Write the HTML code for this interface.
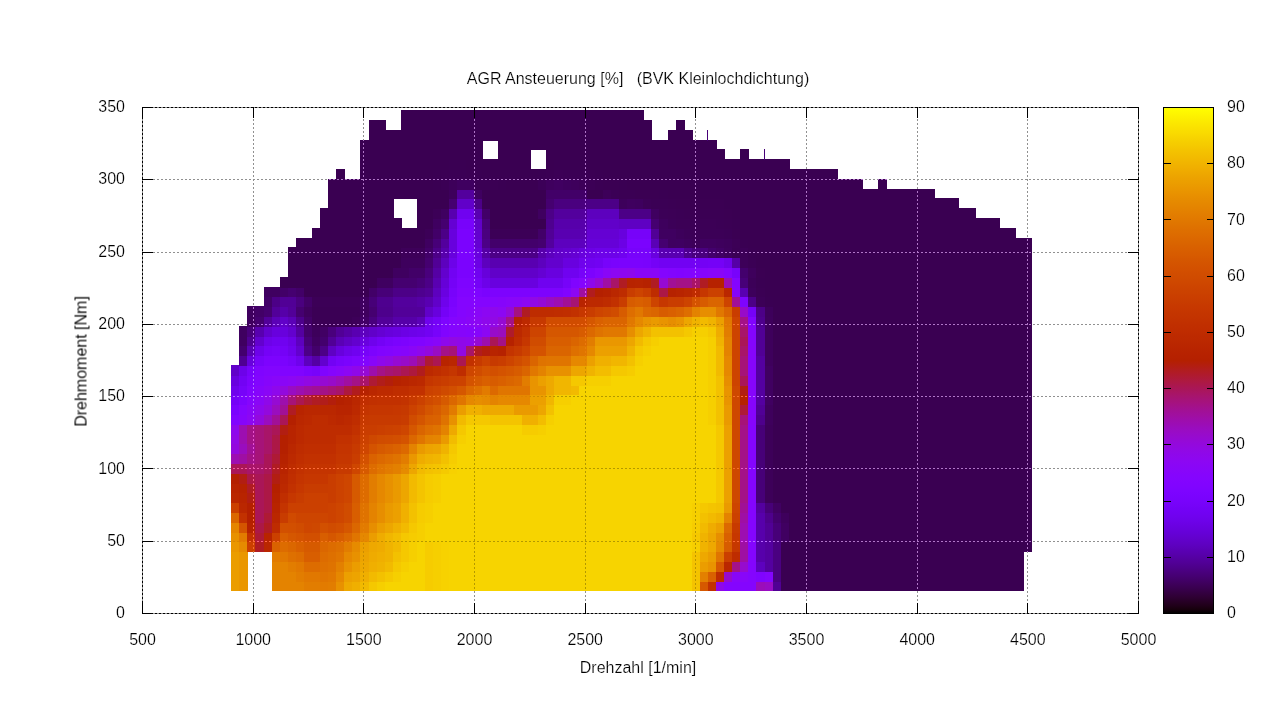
<!DOCTYPE html><html><head><meta charset="utf-8"><title>AGR Ansteuerung</title><style>html,body{margin:0;padding:0;background:#fff;}body{width:1280px;height:720px;overflow:hidden;position:relative;}svg{position:absolute;left:0;top:0;}text{font-family:"Liberation Sans",sans-serif;font-size:16px;fill:#000;stroke:#fff;stroke-width:.2px;}.tx{opacity:.999;}.hm rect{shape-rendering:crispEdges;}.g line{stroke:#909090;stroke-width:1;stroke-dasharray:2 2;shape-rendering:crispEdges;}.g{mix-blend-mode:luminosity;}.b{stroke:#000;stroke-width:1;fill:none;shape-rendering:crispEdges;}.t line{stroke:#000;stroke-width:1;shape-rendering:crispEdges;}</style></head><body><svg width="1280" height="720" viewBox="0 0 1280 720"><rect width="1280" height="720" fill="#fff"/><g class="hm"><rect x="231" y="581" width="9" height="10" fill="#eb9d00"/><rect x="239" y="581" width="9" height="10" fill="#ea9700"/><rect x="272" y="581" width="33" height="10" fill="#e48300"/><rect x="304" y="581" width="17" height="10" fill="#e27d00"/><rect x="320" y="581" width="9" height="10" fill="#e27b00"/><rect x="328" y="581" width="9" height="10" fill="#e27d00"/><rect x="336" y="581" width="9" height="10" fill="#e89100"/><rect x="344" y="581" width="9" height="10" fill="#eea900"/><rect x="352" y="581" width="9" height="10" fill="#f0af00"/><rect x="360" y="581" width="10" height="10" fill="#f2ba00"/><rect x="369" y="581" width="9" height="10" fill="#f5c800"/><rect x="377" y="581" width="9" height="10" fill="#f6cf00"/><rect x="385" y="581" width="41" height="10" fill="#f7d400"/><rect x="425" y="581" width="9" height="10" fill="#f6cc00"/><rect x="433" y="581" width="9" height="10" fill="#f6cf00"/><rect x="441" y="581" width="9" height="10" fill="#f7d200"/><rect x="449" y="581" width="244" height="10" fill="#f7d400"/><rect x="692" y="581" width="9" height="10" fill="#f4c300"/><rect x="700" y="581" width="9" height="10" fill="#d65800"/><rect x="708" y="581" width="9" height="10" fill="#c23200"/><rect x="716" y="581" width="9" height="10" fill="#8f08e9"/><rect x="724" y="581" width="33" height="10" fill="#8405fe"/><rect x="756" y="581" width="10" height="10" fill="#9b0dba"/><rect x="765" y="581" width="9" height="10" fill="#990cc4"/><rect x="773" y="581" width="9" height="10" fill="#500094"/><rect x="781" y="581" width="243" height="10" fill="#3a0052"/><rect x="231" y="571" width="9" height="11" fill="#eb9d00"/><rect x="239" y="571" width="9" height="11" fill="#ea9700"/><rect x="272" y="571" width="25" height="11" fill="#e48300"/><rect x="296" y="571" width="9" height="11" fill="#e27d00"/><rect x="304" y="571" width="17" height="11" fill="#e17800"/><rect x="320" y="571" width="9" height="11" fill="#e07500"/><rect x="328" y="571" width="9" height="11" fill="#e17800"/><rect x="336" y="571" width="9" height="11" fill="#e68800"/><rect x="344" y="571" width="9" height="11" fill="#eca000"/><rect x="352" y="571" width="9" height="11" fill="#eda400"/><rect x="360" y="571" width="10" height="11" fill="#f0af00"/><rect x="369" y="571" width="9" height="11" fill="#f2ba00"/><rect x="377" y="571" width="9" height="11" fill="#f3c100"/><rect x="385" y="571" width="9" height="11" fill="#f5c800"/><rect x="393" y="571" width="9" height="11" fill="#f6cf00"/><rect x="401" y="571" width="25" height="11" fill="#f7d400"/><rect x="425" y="571" width="9" height="11" fill="#f6cc00"/><rect x="433" y="571" width="9" height="11" fill="#f6cf00"/><rect x="441" y="571" width="9" height="11" fill="#f7d200"/><rect x="449" y="571" width="244" height="11" fill="#f7d400"/><rect x="692" y="571" width="9" height="11" fill="#f4c300"/><rect x="700" y="571" width="9" height="11" fill="#e38000"/><rect x="708" y="571" width="9" height="11" fill="#d96100"/><rect x="716" y="571" width="9" height="11" fill="#be2c00"/><rect x="724" y="571" width="9" height="11" fill="#970bce"/><rect x="732" y="571" width="17" height="11" fill="#8806f9"/><rect x="748" y="571" width="9" height="11" fill="#8405fe"/><rect x="756" y="571" width="10" height="11" fill="#8004ff"/><rect x="765" y="571" width="9" height="11" fill="#8405fe"/><rect x="773" y="571" width="9" height="11" fill="#4a0081"/><rect x="781" y="571" width="243" height="11" fill="#3a0052"/><rect x="231" y="561" width="9" height="11" fill="#eb9d00"/><rect x="239" y="561" width="9" height="11" fill="#ea9700"/><rect x="272" y="561" width="17" height="11" fill="#e48300"/><rect x="288" y="561" width="9" height="11" fill="#e27d00"/><rect x="296" y="561" width="9" height="11" fill="#e17800"/><rect x="304" y="561" width="17" height="11" fill="#dd6c00"/><rect x="320" y="561" width="9" height="11" fill="#de7000"/><rect x="328" y="561" width="9" height="11" fill="#df7300"/><rect x="336" y="561" width="9" height="11" fill="#e38000"/><rect x="344" y="561" width="9" height="11" fill="#e89100"/><rect x="352" y="561" width="9" height="11" fill="#eb9d00"/><rect x="360" y="561" width="10" height="11" fill="#eea800"/><rect x="369" y="561" width="9" height="11" fill="#f0af00"/><rect x="377" y="561" width="9" height="11" fill="#f0b300"/><rect x="385" y="561" width="9" height="11" fill="#f2ba00"/><rect x="393" y="561" width="9" height="11" fill="#f5c800"/><rect x="401" y="561" width="9" height="11" fill="#f6cf00"/><rect x="409" y="561" width="17" height="11" fill="#f7d400"/><rect x="425" y="561" width="9" height="11" fill="#f6cc00"/><rect x="433" y="561" width="9" height="11" fill="#f6cf00"/><rect x="441" y="561" width="9" height="11" fill="#f7d200"/><rect x="449" y="561" width="244" height="11" fill="#f7d400"/><rect x="692" y="561" width="9" height="11" fill="#f4c300"/><rect x="700" y="561" width="9" height="11" fill="#eb9d00"/><rect x="708" y="561" width="9" height="11" fill="#e99300"/><rect x="716" y="561" width="9" height="11" fill="#d65800"/><rect x="724" y="561" width="9" height="11" fill="#ba2700"/><rect x="732" y="561" width="9" height="11" fill="#a31289"/><rect x="740" y="561" width="9" height="11" fill="#970bce"/><rect x="748" y="561" width="9" height="11" fill="#8405fe"/><rect x="756" y="561" width="10" height="11" fill="#5d01be"/><rect x="765" y="561" width="9" height="11" fill="#5400a0"/><rect x="773" y="561" width="9" height="11" fill="#4a0081"/><rect x="781" y="561" width="243" height="11" fill="#3a0052"/><rect x="231" y="551" width="9" height="11" fill="#eb9d00"/><rect x="239" y="551" width="9" height="11" fill="#ea9700"/><rect x="272" y="551" width="9" height="11" fill="#e27b00"/><rect x="280" y="551" width="9" height="11" fill="#e17800"/><rect x="288" y="551" width="9" height="11" fill="#de7000"/><rect x="296" y="551" width="9" height="11" fill="#dd6c00"/><rect x="304" y="551" width="17" height="11" fill="#d85e00"/><rect x="320" y="551" width="9" height="11" fill="#dd6c00"/><rect x="328" y="551" width="9" height="11" fill="#de7000"/><rect x="336" y="551" width="9" height="11" fill="#e07500"/><rect x="344" y="551" width="9" height="11" fill="#e68800"/><rect x="352" y="551" width="9" height="11" fill="#e89100"/><rect x="360" y="551" width="10" height="11" fill="#eda400"/><rect x="369" y="551" width="9" height="11" fill="#efab00"/><rect x="377" y="551" width="9" height="11" fill="#f0af00"/><rect x="385" y="551" width="9" height="11" fill="#f0b300"/><rect x="393" y="551" width="9" height="11" fill="#f3c100"/><rect x="401" y="551" width="9" height="11" fill="#f5c800"/><rect x="409" y="551" width="9" height="11" fill="#f6cf00"/><rect x="417" y="551" width="9" height="11" fill="#f7d400"/><rect x="425" y="551" width="9" height="11" fill="#f6cc00"/><rect x="433" y="551" width="9" height="11" fill="#f6cf00"/><rect x="441" y="551" width="9" height="11" fill="#f7d200"/><rect x="449" y="551" width="244" height="11" fill="#f7d400"/><rect x="692" y="551" width="9" height="11" fill="#f4c300"/><rect x="700" y="551" width="9" height="11" fill="#eea800"/><rect x="708" y="551" width="9" height="11" fill="#eb9d00"/><rect x="716" y="551" width="9" height="11" fill="#e07500"/><rect x="724" y="551" width="9" height="11" fill="#ca3f00"/><rect x="732" y="551" width="9" height="11" fill="#be2c00"/><rect x="740" y="551" width="9" height="11" fill="#9f0fa3"/><rect x="748" y="551" width="9" height="11" fill="#8405fe"/><rect x="756" y="551" width="10" height="11" fill="#5700ab"/><rect x="765" y="551" width="9" height="11" fill="#5400a0"/><rect x="773" y="551" width="9" height="11" fill="#4a0081"/><rect x="781" y="551" width="243" height="11" fill="#3a0052"/><rect x="231" y="541" width="9" height="11" fill="#ea9700"/><rect x="239" y="541" width="9" height="11" fill="#e68b00"/><rect x="247" y="541" width="9" height="11" fill="#cb4000"/><rect x="255" y="541" width="10" height="11" fill="#b01c23"/><rect x="264" y="541" width="9" height="11" fill="#ba2700"/><rect x="272" y="541" width="9" height="11" fill="#da6200"/><rect x="280" y="541" width="9" height="11" fill="#dd6c00"/><rect x="288" y="541" width="9" height="11" fill="#db6700"/><rect x="296" y="541" width="9" height="11" fill="#d96000"/><rect x="304" y="541" width="17" height="11" fill="#d65a00"/><rect x="320" y="541" width="9" height="11" fill="#db6700"/><rect x="328" y="541" width="9" height="11" fill="#dd6c00"/><rect x="336" y="541" width="9" height="11" fill="#de7000"/><rect x="344" y="541" width="9" height="11" fill="#e27d00"/><rect x="352" y="541" width="9" height="11" fill="#e68b00"/><rect x="360" y="541" width="10" height="11" fill="#eca000"/><rect x="369" y="541" width="9" height="11" fill="#eea800"/><rect x="377" y="541" width="9" height="11" fill="#efab00"/><rect x="385" y="541" width="9" height="11" fill="#f0b300"/><rect x="393" y="541" width="9" height="11" fill="#f2ba00"/><rect x="401" y="541" width="9" height="11" fill="#f5c800"/><rect x="409" y="541" width="9" height="11" fill="#f6cf00"/><rect x="417" y="541" width="9" height="11" fill="#f7d400"/><rect x="425" y="541" width="9" height="11" fill="#f6cc00"/><rect x="433" y="541" width="9" height="11" fill="#f6cf00"/><rect x="441" y="541" width="9" height="11" fill="#f7d200"/><rect x="449" y="541" width="244" height="11" fill="#f7d400"/><rect x="692" y="541" width="9" height="11" fill="#f6ce00"/><rect x="700" y="541" width="9" height="11" fill="#f0b300"/><rect x="708" y="541" width="9" height="11" fill="#eea800"/><rect x="716" y="541" width="9" height="11" fill="#e68900"/><rect x="724" y="541" width="9" height="11" fill="#d75c00"/><rect x="732" y="541" width="9" height="11" fill="#c63800"/><rect x="740" y="541" width="9" height="11" fill="#9f0fa3"/><rect x="748" y="541" width="9" height="11" fill="#8405fe"/><rect x="756" y="541" width="10" height="11" fill="#5700ab"/><rect x="765" y="541" width="9" height="11" fill="#5400a0"/><rect x="773" y="541" width="9" height="11" fill="#4a0081"/><rect x="781" y="541" width="251" height="11" fill="#3a0052"/><rect x="231" y="532" width="9" height="10" fill="#e89100"/><rect x="239" y="532" width="9" height="10" fill="#e27b00"/><rect x="247" y="532" width="9" height="10" fill="#c23100"/><rect x="255" y="532" width="10" height="10" fill="#ae1a35"/><rect x="264" y="532" width="9" height="10" fill="#b82400"/><rect x="272" y="532" width="9" height="10" fill="#cb4000"/><rect x="280" y="532" width="9" height="10" fill="#d85e00"/><rect x="288" y="532" width="9" height="10" fill="#d55700"/><rect x="296" y="532" width="9" height="10" fill="#d45300"/><rect x="304" y="532" width="17" height="10" fill="#d24f00"/><rect x="320" y="532" width="9" height="10" fill="#d85e00"/><rect x="328" y="532" width="9" height="10" fill="#d55700"/><rect x="336" y="532" width="9" height="10" fill="#d85e00"/><rect x="344" y="532" width="9" height="10" fill="#db6700"/><rect x="352" y="532" width="9" height="10" fill="#e07500"/><rect x="360" y="532" width="10" height="10" fill="#e68800"/><rect x="369" y="532" width="9" height="10" fill="#eb9d00"/><rect x="377" y="532" width="9" height="10" fill="#efac00"/><rect x="385" y="532" width="9" height="10" fill="#f1b600"/><rect x="393" y="532" width="9" height="10" fill="#f3bd00"/><rect x="401" y="532" width="9" height="10" fill="#f5c800"/><rect x="409" y="532" width="9" height="10" fill="#f6cc00"/><rect x="417" y="532" width="9" height="10" fill="#f6cf00"/><rect x="425" y="532" width="268" height="10" fill="#f7d400"/><rect x="692" y="532" width="9" height="10" fill="#f5c800"/><rect x="700" y="532" width="9" height="10" fill="#f0b300"/><rect x="708" y="532" width="9" height="10" fill="#eda600"/><rect x="716" y="532" width="9" height="10" fill="#e78e00"/><rect x="724" y="532" width="9" height="10" fill="#d96000"/><rect x="732" y="532" width="9" height="10" fill="#c63700"/><rect x="740" y="532" width="9" height="10" fill="#9d0eb1"/><rect x="748" y="532" width="9" height="10" fill="#8405fe"/><rect x="756" y="532" width="10" height="10" fill="#5700ab"/><rect x="765" y="532" width="9" height="10" fill="#510096"/><rect x="773" y="532" width="9" height="10" fill="#470078"/><rect x="781" y="532" width="9" height="10" fill="#400061"/><rect x="789" y="532" width="243" height="10" fill="#3a0052"/><rect x="231" y="522" width="9" height="11" fill="#e58500"/><rect x="239" y="522" width="9" height="11" fill="#d45500"/><rect x="247" y="522" width="9" height="11" fill="#b62200"/><rect x="255" y="522" width="10" height="11" fill="#ac1846"/><rect x="264" y="522" width="9" height="11" fill="#b01c23"/><rect x="272" y="522" width="9" height="11" fill="#be2c00"/><rect x="280" y="522" width="9" height="11" fill="#d25000"/><rect x="288" y="522" width="9" height="11" fill="#d24f00"/><rect x="296" y="522" width="9" height="11" fill="#d04c00"/><rect x="304" y="522" width="9" height="11" fill="#ce4600"/><rect x="312" y="522" width="9" height="11" fill="#ce4800"/><rect x="320" y="522" width="9" height="11" fill="#d25000"/><rect x="328" y="522" width="9" height="11" fill="#d04c00"/><rect x="336" y="522" width="9" height="11" fill="#d24f00"/><rect x="344" y="522" width="9" height="11" fill="#d55700"/><rect x="352" y="522" width="9" height="11" fill="#db6700"/><rect x="360" y="522" width="10" height="11" fill="#e27b00"/><rect x="369" y="522" width="9" height="11" fill="#e78e00"/><rect x="377" y="522" width="9" height="11" fill="#eb9d00"/><rect x="385" y="522" width="9" height="11" fill="#eda600"/><rect x="393" y="522" width="9" height="11" fill="#f0b000"/><rect x="401" y="522" width="9" height="11" fill="#f2ba00"/><rect x="409" y="522" width="9" height="11" fill="#f5c800"/><rect x="417" y="522" width="9" height="11" fill="#f6cf00"/><rect x="425" y="522" width="268" height="11" fill="#f7d400"/><rect x="692" y="522" width="9" height="11" fill="#f6cc00"/><rect x="700" y="522" width="9" height="11" fill="#f2ba00"/><rect x="708" y="522" width="9" height="11" fill="#efac00"/><rect x="716" y="522" width="9" height="11" fill="#eca000"/><rect x="724" y="522" width="9" height="11" fill="#dc6900"/><rect x="732" y="522" width="9" height="11" fill="#c73a00"/><rect x="740" y="522" width="9" height="11" fill="#9d0eb1"/><rect x="748" y="522" width="9" height="11" fill="#8405fe"/><rect x="756" y="522" width="10" height="11" fill="#5700ab"/><rect x="765" y="522" width="9" height="11" fill="#510096"/><rect x="773" y="522" width="9" height="11" fill="#470078"/><rect x="781" y="522" width="9" height="11" fill="#400061"/><rect x="789" y="522" width="243" height="11" fill="#3a0052"/><rect x="231" y="512" width="9" height="11" fill="#db6700"/><rect x="239" y="512" width="9" height="11" fill="#c23100"/><rect x="247" y="512" width="9" height="11" fill="#b42000"/><rect x="255" y="512" width="10" height="11" fill="#aa1657"/><rect x="264" y="512" width="9" height="11" fill="#ae1a35"/><rect x="272" y="512" width="9" height="11" fill="#ba2700"/><rect x="280" y="512" width="9" height="11" fill="#c83c00"/><rect x="288" y="512" width="9" height="11" fill="#d04a00"/><rect x="296" y="512" width="33" height="11" fill="#cd4500"/><rect x="328" y="512" width="9" height="11" fill="#cc4200"/><rect x="336" y="512" width="9" height="11" fill="#ce4600"/><rect x="344" y="512" width="9" height="11" fill="#d04c00"/><rect x="352" y="512" width="9" height="11" fill="#d85e00"/><rect x="360" y="512" width="10" height="11" fill="#df7300"/><rect x="369" y="512" width="9" height="11" fill="#e48300"/><rect x="377" y="512" width="9" height="11" fill="#e78e00"/><rect x="385" y="512" width="9" height="11" fill="#ea9a00"/><rect x="393" y="512" width="9" height="11" fill="#eca000"/><rect x="401" y="512" width="9" height="11" fill="#f0b000"/><rect x="409" y="512" width="9" height="11" fill="#f3c100"/><rect x="417" y="512" width="9" height="11" fill="#f6cc00"/><rect x="425" y="512" width="9" height="11" fill="#f6cf00"/><rect x="433" y="512" width="260" height="11" fill="#f7d400"/><rect x="692" y="512" width="9" height="11" fill="#f6cf00"/><rect x="700" y="512" width="9" height="11" fill="#f3c100"/><rect x="708" y="512" width="9" height="11" fill="#f2ba00"/><rect x="716" y="512" width="9" height="11" fill="#f0b300"/><rect x="724" y="512" width="9" height="11" fill="#e48300"/><rect x="732" y="512" width="9" height="11" fill="#cb4100"/><rect x="740" y="512" width="9" height="11" fill="#9f0fa4"/><rect x="748" y="512" width="9" height="11" fill="#8405fe"/><rect x="756" y="512" width="10" height="11" fill="#5700ab"/><rect x="765" y="512" width="9" height="11" fill="#4e008c"/><rect x="773" y="512" width="9" height="11" fill="#43006d"/><rect x="781" y="512" width="9" height="11" fill="#3e005c"/><rect x="789" y="512" width="243" height="11" fill="#3a0052"/><rect x="231" y="502" width="9" height="11" fill="#cb4000"/><rect x="239" y="502" width="9" height="11" fill="#ba2700"/><rect x="247" y="502" width="9" height="11" fill="#b42000"/><rect x="255" y="502" width="10" height="11" fill="#aa1657"/><rect x="264" y="502" width="9" height="11" fill="#ac1846"/><rect x="272" y="502" width="9" height="11" fill="#b82400"/><rect x="280" y="502" width="9" height="11" fill="#c43400"/><rect x="288" y="502" width="41" height="11" fill="#cb4000"/><rect x="328" y="502" width="9" height="11" fill="#cc4200"/><rect x="336" y="502" width="9" height="11" fill="#ce4600"/><rect x="344" y="502" width="9" height="11" fill="#d04c00"/><rect x="352" y="502" width="9" height="11" fill="#d85e00"/><rect x="360" y="502" width="10" height="11" fill="#df7300"/><rect x="369" y="502" width="9" height="11" fill="#e48300"/><rect x="377" y="502" width="9" height="11" fill="#e78e00"/><rect x="385" y="502" width="9" height="11" fill="#ea9a00"/><rect x="393" y="502" width="9" height="11" fill="#eca000"/><rect x="401" y="502" width="9" height="11" fill="#f0b000"/><rect x="409" y="502" width="9" height="11" fill="#f3c100"/><rect x="417" y="502" width="9" height="11" fill="#f6cc00"/><rect x="425" y="502" width="9" height="11" fill="#f6cf00"/><rect x="433" y="502" width="260" height="11" fill="#f7d400"/><rect x="692" y="502" width="9" height="11" fill="#f6cf00"/><rect x="700" y="502" width="9" height="11" fill="#f5c800"/><rect x="708" y="502" width="9" height="11" fill="#f4c400"/><rect x="716" y="502" width="9" height="11" fill="#f3c100"/><rect x="724" y="502" width="9" height="11" fill="#ea9a00"/><rect x="732" y="502" width="9" height="11" fill="#cd4400"/><rect x="740" y="502" width="9" height="11" fill="#a11096"/><rect x="748" y="502" width="9" height="11" fill="#8405fe"/><rect x="756" y="502" width="10" height="11" fill="#5400a0"/><rect x="765" y="502" width="9" height="11" fill="#470078"/><rect x="773" y="502" width="9" height="11" fill="#400061"/><rect x="781" y="502" width="251" height="11" fill="#3a0052"/><rect x="231" y="492" width="9" height="11" fill="#ba2700"/><rect x="239" y="492" width="9" height="11" fill="#b82400"/><rect x="247" y="492" width="9" height="11" fill="#b21e12"/><rect x="255" y="492" width="10" height="11" fill="#aa1657"/><rect x="264" y="492" width="9" height="11" fill="#ac1846"/><rect x="272" y="492" width="9" height="11" fill="#b62200"/><rect x="280" y="492" width="9" height="11" fill="#c02e00"/><rect x="288" y="492" width="9" height="11" fill="#c63700"/><rect x="296" y="492" width="9" height="11" fill="#c83c00"/><rect x="304" y="492" width="25" height="11" fill="#cb4000"/><rect x="328" y="492" width="9" height="11" fill="#c93d00"/><rect x="336" y="492" width="9" height="11" fill="#cc4200"/><rect x="344" y="492" width="9" height="11" fill="#ce4600"/><rect x="352" y="492" width="9" height="11" fill="#d65a00"/><rect x="360" y="492" width="10" height="11" fill="#dd6c00"/><rect x="369" y="492" width="9" height="11" fill="#e27d00"/><rect x="377" y="492" width="9" height="11" fill="#e68800"/><rect x="385" y="492" width="9" height="11" fill="#e89100"/><rect x="393" y="492" width="9" height="11" fill="#ea9a00"/><rect x="401" y="492" width="9" height="11" fill="#eda600"/><rect x="409" y="492" width="9" height="11" fill="#f2ba00"/><rect x="417" y="492" width="9" height="11" fill="#f4c400"/><rect x="425" y="492" width="9" height="11" fill="#f6cc00"/><rect x="433" y="492" width="9" height="11" fill="#f6cf00"/><rect x="441" y="492" width="276" height="11" fill="#f7d400"/><rect x="716" y="492" width="9" height="11" fill="#f5c800"/><rect x="724" y="492" width="9" height="11" fill="#eca000"/><rect x="732" y="492" width="9" height="11" fill="#ce4800"/><rect x="740" y="492" width="9" height="11" fill="#a41287"/><rect x="748" y="492" width="9" height="11" fill="#8405fe"/><rect x="756" y="492" width="10" height="11" fill="#470078"/><rect x="765" y="492" width="9" height="11" fill="#3d0059"/><rect x="773" y="492" width="259" height="11" fill="#3a0052"/><rect x="231" y="483" width="9" height="10" fill="#b82400"/><rect x="239" y="483" width="9" height="10" fill="#b62200"/><rect x="247" y="483" width="9" height="10" fill="#b01c23"/><rect x="255" y="483" width="10" height="10" fill="#aa1657"/><rect x="264" y="483" width="9" height="10" fill="#ac1846"/><rect x="272" y="483" width="9" height="10" fill="#b42000"/><rect x="280" y="483" width="9" height="10" fill="#bc2900"/><rect x="288" y="483" width="9" height="10" fill="#c23100"/><rect x="296" y="483" width="9" height="10" fill="#c63700"/><rect x="304" y="483" width="25" height="10" fill="#c83c00"/><rect x="328" y="483" width="9" height="10" fill="#c93d00"/><rect x="336" y="483" width="9" height="10" fill="#cc4200"/><rect x="344" y="483" width="9" height="10" fill="#ce4600"/><rect x="352" y="483" width="9" height="10" fill="#d65a00"/><rect x="360" y="483" width="10" height="10" fill="#dd6c00"/><rect x="369" y="483" width="9" height="10" fill="#e27d00"/><rect x="377" y="483" width="9" height="10" fill="#e68800"/><rect x="385" y="483" width="9" height="10" fill="#e89100"/><rect x="393" y="483" width="9" height="10" fill="#ea9a00"/><rect x="401" y="483" width="9" height="10" fill="#eda600"/><rect x="409" y="483" width="9" height="10" fill="#f2ba00"/><rect x="417" y="483" width="9" height="10" fill="#f4c400"/><rect x="425" y="483" width="9" height="10" fill="#f6cc00"/><rect x="433" y="483" width="9" height="10" fill="#f6cf00"/><rect x="441" y="483" width="276" height="10" fill="#f7d400"/><rect x="716" y="483" width="9" height="10" fill="#f5c800"/><rect x="724" y="483" width="9" height="10" fill="#eca000"/><rect x="732" y="483" width="9" height="10" fill="#ce4800"/><rect x="740" y="483" width="9" height="10" fill="#a41287"/><rect x="748" y="483" width="9" height="10" fill="#8405fe"/><rect x="756" y="483" width="10" height="10" fill="#470078"/><rect x="765" y="483" width="9" height="10" fill="#3d0059"/><rect x="773" y="483" width="259" height="10" fill="#3a0052"/><rect x="231" y="473" width="9" height="11" fill="#b42000"/><rect x="239" y="473" width="9" height="11" fill="#b21e12"/><rect x="247" y="473" width="9" height="11" fill="#ac1846"/><rect x="255" y="473" width="10" height="11" fill="#aa1657"/><rect x="264" y="473" width="9" height="11" fill="#ac1846"/><rect x="272" y="473" width="9" height="11" fill="#b21e12"/><rect x="280" y="473" width="9" height="11" fill="#ba2700"/><rect x="288" y="473" width="9" height="11" fill="#c02e00"/><rect x="296" y="473" width="9" height="11" fill="#c43400"/><rect x="304" y="473" width="25" height="11" fill="#c63700"/><rect x="328" y="473" width="9" height="11" fill="#c93d00"/><rect x="336" y="473" width="9" height="11" fill="#cc4200"/><rect x="344" y="473" width="9" height="11" fill="#ce4600"/><rect x="352" y="473" width="9" height="11" fill="#d65a00"/><rect x="360" y="473" width="10" height="11" fill="#dd6c00"/><rect x="369" y="473" width="9" height="11" fill="#e27d00"/><rect x="377" y="473" width="9" height="11" fill="#e68800"/><rect x="385" y="473" width="9" height="11" fill="#e89100"/><rect x="393" y="473" width="9" height="11" fill="#ea9a00"/><rect x="401" y="473" width="9" height="11" fill="#eda600"/><rect x="409" y="473" width="9" height="11" fill="#f2ba00"/><rect x="417" y="473" width="9" height="11" fill="#f4c400"/><rect x="425" y="473" width="9" height="11" fill="#f6cc00"/><rect x="433" y="473" width="9" height="11" fill="#f6cf00"/><rect x="441" y="473" width="276" height="11" fill="#f7d400"/><rect x="716" y="473" width="9" height="11" fill="#f5c800"/><rect x="724" y="473" width="9" height="11" fill="#eca000"/><rect x="732" y="473" width="9" height="11" fill="#ce4800"/><rect x="740" y="473" width="9" height="11" fill="#a41287"/><rect x="748" y="473" width="9" height="11" fill="#8405fe"/><rect x="756" y="473" width="10" height="11" fill="#470078"/><rect x="765" y="473" width="9" height="11" fill="#3d0059"/><rect x="773" y="473" width="259" height="11" fill="#3a0052"/><rect x="231" y="463" width="17" height="11" fill="#aa1657"/><rect x="247" y="463" width="18" height="11" fill="#a81568"/><rect x="264" y="463" width="9" height="11" fill="#aa1657"/><rect x="272" y="463" width="9" height="11" fill="#b01c23"/><rect x="280" y="463" width="9" height="11" fill="#b82400"/><rect x="288" y="463" width="9" height="11" fill="#be2c00"/><rect x="296" y="463" width="9" height="11" fill="#c23100"/><rect x="304" y="463" width="33" height="11" fill="#c43400"/><rect x="336" y="463" width="17" height="11" fill="#c73a00"/><rect x="352" y="463" width="9" height="11" fill="#ce4600"/><rect x="360" y="463" width="10" height="11" fill="#d65a00"/><rect x="369" y="463" width="9" height="11" fill="#dd6c00"/><rect x="377" y="463" width="9" height="11" fill="#e07500"/><rect x="385" y="463" width="9" height="11" fill="#e27b00"/><rect x="393" y="463" width="9" height="11" fill="#e38000"/><rect x="401" y="463" width="9" height="11" fill="#e68b00"/><rect x="409" y="463" width="9" height="11" fill="#eda600"/><rect x="417" y="463" width="9" height="11" fill="#f2ba00"/><rect x="425" y="463" width="9" height="11" fill="#f3c100"/><rect x="433" y="463" width="9" height="11" fill="#f4c400"/><rect x="441" y="463" width="9" height="11" fill="#f5ca00"/><rect x="449" y="463" width="9" height="11" fill="#f7d100"/><rect x="457" y="463" width="260" height="11" fill="#f7d400"/><rect x="716" y="463" width="9" height="11" fill="#f5c800"/><rect x="724" y="463" width="9" height="11" fill="#eca000"/><rect x="732" y="463" width="9" height="11" fill="#ce4800"/><rect x="740" y="463" width="9" height="11" fill="#a41287"/><rect x="748" y="463" width="9" height="11" fill="#8405fe"/><rect x="756" y="463" width="10" height="11" fill="#470078"/><rect x="765" y="463" width="9" height="11" fill="#3d0059"/><rect x="773" y="463" width="259" height="11" fill="#3a0052"/><rect x="231" y="453" width="9" height="11" fill="#9d0eb1"/><rect x="239" y="453" width="9" height="11" fill="#9f0fa4"/><rect x="247" y="453" width="9" height="11" fill="#a41287"/><rect x="255" y="453" width="10" height="11" fill="#a61378"/><rect x="264" y="453" width="9" height="11" fill="#aa1657"/><rect x="272" y="453" width="9" height="11" fill="#ae1a35"/><rect x="280" y="453" width="9" height="11" fill="#b62200"/><rect x="288" y="453" width="9" height="11" fill="#bc2900"/><rect x="296" y="453" width="9" height="11" fill="#c02e00"/><rect x="304" y="453" width="33" height="11" fill="#c23100"/><rect x="336" y="453" width="17" height="11" fill="#c53600"/><rect x="352" y="453" width="9" height="11" fill="#c93d00"/><rect x="360" y="453" width="10" height="11" fill="#d35100"/><rect x="369" y="453" width="9" height="11" fill="#da6200"/><rect x="377" y="453" width="9" height="11" fill="#dc6900"/><rect x="385" y="453" width="9" height="11" fill="#de6e00"/><rect x="393" y="453" width="9" height="11" fill="#df7300"/><rect x="401" y="453" width="9" height="11" fill="#e27d00"/><rect x="409" y="453" width="9" height="11" fill="#ea9700"/><rect x="417" y="453" width="9" height="11" fill="#efac00"/><rect x="425" y="453" width="9" height="11" fill="#f0b300"/><rect x="433" y="453" width="9" height="11" fill="#f1b600"/><rect x="441" y="453" width="9" height="11" fill="#f3c100"/><rect x="449" y="453" width="9" height="11" fill="#f6cd00"/><rect x="457" y="453" width="260" height="11" fill="#f7d400"/><rect x="716" y="453" width="9" height="11" fill="#f5c800"/><rect x="724" y="453" width="9" height="11" fill="#eca000"/><rect x="732" y="453" width="9" height="11" fill="#ce4800"/><rect x="740" y="453" width="9" height="11" fill="#a41287"/><rect x="748" y="453" width="9" height="11" fill="#8405fe"/><rect x="756" y="453" width="10" height="11" fill="#470078"/><rect x="765" y="453" width="9" height="11" fill="#3d0059"/><rect x="773" y="453" width="259" height="11" fill="#3a0052"/><rect x="231" y="443" width="9" height="11" fill="#9309dd"/><rect x="239" y="443" width="9" height="11" fill="#9a0dbe"/><rect x="247" y="443" width="9" height="11" fill="#a11096"/><rect x="255" y="443" width="10" height="11" fill="#a61378"/><rect x="264" y="443" width="9" height="11" fill="#a81568"/><rect x="272" y="443" width="9" height="11" fill="#ac1846"/><rect x="280" y="443" width="9" height="11" fill="#b42000"/><rect x="288" y="443" width="9" height="11" fill="#ba2700"/><rect x="296" y="443" width="9" height="11" fill="#be2c00"/><rect x="304" y="443" width="33" height="11" fill="#c02e00"/><rect x="336" y="443" width="17" height="11" fill="#c43400"/><rect x="352" y="443" width="9" height="11" fill="#c73a00"/><rect x="360" y="443" width="10" height="11" fill="#ce4600"/><rect x="369" y="443" width="9" height="11" fill="#d45300"/><rect x="377" y="443" width="9" height="11" fill="#d65a00"/><rect x="385" y="443" width="9" height="11" fill="#d85e00"/><rect x="393" y="443" width="9" height="11" fill="#da6200"/><rect x="401" y="443" width="9" height="11" fill="#dc6900"/><rect x="409" y="443" width="9" height="11" fill="#e48300"/><rect x="417" y="443" width="9" height="11" fill="#ea9a00"/><rect x="425" y="443" width="9" height="11" fill="#eda300"/><rect x="433" y="443" width="9" height="11" fill="#eda600"/><rect x="441" y="443" width="9" height="11" fill="#f0b300"/><rect x="449" y="443" width="9" height="11" fill="#f5c800"/><rect x="457" y="443" width="260" height="11" fill="#f7d400"/><rect x="716" y="443" width="9" height="11" fill="#f5c800"/><rect x="724" y="443" width="9" height="11" fill="#eca000"/><rect x="732" y="443" width="9" height="11" fill="#ce4800"/><rect x="740" y="443" width="9" height="11" fill="#a41287"/><rect x="748" y="443" width="9" height="11" fill="#8405fe"/><rect x="756" y="443" width="10" height="11" fill="#470078"/><rect x="765" y="443" width="9" height="11" fill="#3d0059"/><rect x="773" y="443" width="259" height="11" fill="#3a0052"/><rect x="231" y="434" width="9" height="10" fill="#9109e5"/><rect x="239" y="434" width="9" height="10" fill="#9d0eb1"/><rect x="247" y="434" width="9" height="10" fill="#a41287"/><rect x="255" y="434" width="10" height="10" fill="#a61378"/><rect x="264" y="434" width="9" height="10" fill="#a81568"/><rect x="272" y="434" width="9" height="10" fill="#ac1846"/><rect x="280" y="434" width="9" height="10" fill="#b42000"/><rect x="288" y="434" width="9" height="10" fill="#b82400"/><rect x="296" y="434" width="9" height="10" fill="#bc2900"/><rect x="304" y="434" width="33" height="10" fill="#be2c00"/><rect x="336" y="434" width="17" height="10" fill="#c23100"/><rect x="352" y="434" width="9" height="10" fill="#c53600"/><rect x="360" y="434" width="10" height="10" fill="#cb4100"/><rect x="369" y="434" width="9" height="10" fill="#ce4800"/><rect x="377" y="434" width="9" height="10" fill="#d04c00"/><rect x="385" y="434" width="9" height="10" fill="#d14d00"/><rect x="393" y="434" width="9" height="10" fill="#d24f00"/><rect x="401" y="434" width="9" height="10" fill="#d45300"/><rect x="409" y="434" width="9" height="10" fill="#db6700"/><rect x="417" y="434" width="9" height="10" fill="#e07500"/><rect x="425" y="434" width="9" height="10" fill="#e48300"/><rect x="433" y="434" width="9" height="10" fill="#e58500"/><rect x="441" y="434" width="9" height="10" fill="#ea9a00"/><rect x="449" y="434" width="9" height="10" fill="#f2bc00"/><rect x="457" y="434" width="10" height="10" fill="#f6cf00"/><rect x="466" y="434" width="251" height="10" fill="#f7d400"/><rect x="716" y="434" width="9" height="10" fill="#f5c800"/><rect x="724" y="434" width="9" height="10" fill="#eca000"/><rect x="732" y="434" width="9" height="10" fill="#ce4800"/><rect x="740" y="434" width="9" height="10" fill="#a41287"/><rect x="748" y="434" width="9" height="10" fill="#8405fe"/><rect x="756" y="434" width="10" height="10" fill="#470078"/><rect x="765" y="434" width="9" height="10" fill="#3d0059"/><rect x="773" y="434" width="259" height="10" fill="#3a0052"/><rect x="231" y="424" width="9" height="11" fill="#8e08ec"/><rect x="239" y="424" width="9" height="11" fill="#9d0eb1"/><rect x="247" y="424" width="9" height="11" fill="#a41287"/><rect x="255" y="424" width="10" height="11" fill="#a61378"/><rect x="264" y="424" width="9" height="11" fill="#a81568"/><rect x="272" y="424" width="9" height="11" fill="#aa1657"/><rect x="280" y="424" width="9" height="11" fill="#b21e12"/><rect x="288" y="424" width="9" height="11" fill="#b82400"/><rect x="296" y="424" width="9" height="11" fill="#bc2900"/><rect x="304" y="424" width="49" height="11" fill="#be2c00"/><rect x="352" y="424" width="9" height="11" fill="#c23100"/><rect x="360" y="424" width="18" height="11" fill="#c93d00"/><rect x="377" y="424" width="9" height="11" fill="#ca3f00"/><rect x="385" y="424" width="9" height="11" fill="#cb4100"/><rect x="393" y="424" width="9" height="11" fill="#cc4200"/><rect x="401" y="424" width="9" height="11" fill="#ce4600"/><rect x="409" y="424" width="9" height="11" fill="#d55700"/><rect x="417" y="424" width="9" height="11" fill="#da6500"/><rect x="425" y="424" width="9" height="11" fill="#de6e00"/><rect x="433" y="424" width="9" height="11" fill="#df7300"/><rect x="441" y="424" width="9" height="11" fill="#e48300"/><rect x="449" y="424" width="9" height="11" fill="#eea900"/><rect x="457" y="424" width="10" height="11" fill="#f5c800"/><rect x="466" y="424" width="57" height="11" fill="#f7d400"/><rect x="522" y="424" width="17" height="11" fill="#f6cc00"/><rect x="538" y="424" width="9" height="11" fill="#f6cf00"/><rect x="546" y="424" width="171" height="11" fill="#f7d400"/><rect x="716" y="424" width="9" height="11" fill="#f5c800"/><rect x="724" y="424" width="9" height="11" fill="#eca000"/><rect x="732" y="424" width="9" height="11" fill="#ce4800"/><rect x="740" y="424" width="9" height="11" fill="#a41287"/><rect x="748" y="424" width="9" height="11" fill="#8405fe"/><rect x="756" y="424" width="10" height="11" fill="#470078"/><rect x="765" y="424" width="9" height="11" fill="#3d0059"/><rect x="773" y="424" width="259" height="11" fill="#3a0052"/><rect x="231" y="414" width="9" height="11" fill="#8104ff"/><rect x="239" y="414" width="9" height="11" fill="#8605fb"/><rect x="247" y="414" width="9" height="11" fill="#8c07f3"/><rect x="255" y="414" width="10" height="11" fill="#9309dd"/><rect x="264" y="414" width="9" height="11" fill="#9a0dbe"/><rect x="272" y="414" width="9" height="11" fill="#a11096"/><rect x="280" y="414" width="9" height="11" fill="#aa1657"/><rect x="288" y="414" width="9" height="11" fill="#b42000"/><rect x="296" y="414" width="9" height="11" fill="#ba2700"/><rect x="304" y="414" width="9" height="11" fill="#bc2900"/><rect x="312" y="414" width="17" height="11" fill="#be2c00"/><rect x="328" y="414" width="9" height="11" fill="#bc2900"/><rect x="336" y="414" width="9" height="11" fill="#ba2700"/><rect x="344" y="414" width="9" height="11" fill="#bc2900"/><rect x="352" y="414" width="9" height="11" fill="#bf2d00"/><rect x="360" y="414" width="10" height="11" fill="#c63900"/><rect x="369" y="414" width="33" height="11" fill="#c73a00"/><rect x="401" y="414" width="9" height="11" fill="#c83c00"/><rect x="409" y="414" width="9" height="11" fill="#d04c00"/><rect x="417" y="414" width="9" height="11" fill="#d45500"/><rect x="425" y="414" width="9" height="11" fill="#d96000"/><rect x="433" y="414" width="9" height="11" fill="#da6200"/><rect x="441" y="414" width="9" height="11" fill="#df7300"/><rect x="449" y="414" width="9" height="11" fill="#e89100"/><rect x="457" y="414" width="10" height="11" fill="#f2ba00"/><rect x="466" y="414" width="25" height="11" fill="#f5c800"/><rect x="490" y="414" width="33" height="11" fill="#f4c400"/><rect x="522" y="414" width="17" height="11" fill="#f0b000"/><rect x="538" y="414" width="9" height="11" fill="#f3bd00"/><rect x="546" y="414" width="9" height="11" fill="#f6cf00"/><rect x="554" y="414" width="155" height="11" fill="#f7d400"/><rect x="708" y="414" width="9" height="11" fill="#f6cf00"/><rect x="716" y="414" width="9" height="11" fill="#f3c100"/><rect x="724" y="414" width="9" height="11" fill="#ea9a00"/><rect x="732" y="414" width="9" height="11" fill="#ce4800"/><rect x="740" y="414" width="9" height="11" fill="#a61378"/><rect x="748" y="414" width="9" height="11" fill="#8605fb"/><rect x="756" y="414" width="10" height="11" fill="#4e008c"/><rect x="765" y="414" width="9" height="11" fill="#3e005c"/><rect x="773" y="414" width="259" height="11" fill="#3a0052"/><rect x="231" y="404" width="9" height="11" fill="#7b03fe"/><rect x="239" y="404" width="9" height="11" fill="#8405fe"/><rect x="247" y="404" width="9" height="11" fill="#8906f7"/><rect x="255" y="404" width="10" height="11" fill="#8e08ec"/><rect x="264" y="404" width="9" height="11" fill="#9309dd"/><rect x="272" y="404" width="9" height="11" fill="#9a0dbe"/><rect x="280" y="404" width="9" height="11" fill="#a11096"/><rect x="288" y="404" width="9" height="11" fill="#b01c23"/><rect x="296" y="404" width="9" height="11" fill="#b82400"/><rect x="304" y="404" width="33" height="11" fill="#ba2700"/><rect x="336" y="404" width="17" height="11" fill="#b82400"/><rect x="352" y="404" width="9" height="11" fill="#bc2900"/><rect x="360" y="404" width="10" height="11" fill="#c43400"/><rect x="369" y="404" width="25" height="11" fill="#c53600"/><rect x="393" y="404" width="9" height="11" fill="#c63700"/><rect x="401" y="404" width="9" height="11" fill="#c63900"/><rect x="409" y="404" width="9" height="11" fill="#cc4200"/><rect x="417" y="404" width="9" height="11" fill="#cf4a00"/><rect x="425" y="404" width="9" height="11" fill="#d45500"/><rect x="433" y="404" width="9" height="11" fill="#d75c00"/><rect x="441" y="404" width="9" height="11" fill="#db6700"/><rect x="449" y="404" width="9" height="11" fill="#e27b00"/><rect x="457" y="404" width="10" height="11" fill="#eb9d00"/><rect x="466" y="404" width="17" height="11" fill="#f0b000"/><rect x="482" y="404" width="33" height="11" fill="#eea900"/><rect x="514" y="404" width="25" height="11" fill="#ea9a00"/><rect x="538" y="404" width="9" height="11" fill="#eda600"/><rect x="546" y="404" width="9" height="11" fill="#f3c100"/><rect x="554" y="404" width="155" height="11" fill="#f7d400"/><rect x="708" y="404" width="9" height="11" fill="#f6cf00"/><rect x="716" y="404" width="9" height="11" fill="#f3c100"/><rect x="724" y="404" width="9" height="11" fill="#ea9a00"/><rect x="732" y="404" width="9" height="11" fill="#ce4800"/><rect x="740" y="404" width="9" height="11" fill="#ae1a35"/><rect x="748" y="404" width="9" height="11" fill="#8605fb"/><rect x="756" y="404" width="10" height="11" fill="#510096"/><rect x="765" y="404" width="9" height="11" fill="#3e005c"/><rect x="773" y="404" width="259" height="11" fill="#3a0052"/><rect x="231" y="394" width="9" height="11" fill="#7502f7"/><rect x="239" y="394" width="9" height="11" fill="#7d03fe"/><rect x="247" y="394" width="9" height="11" fill="#8505fd"/><rect x="255" y="394" width="10" height="11" fill="#8a06f6"/><rect x="264" y="394" width="9" height="11" fill="#8f08e9"/><rect x="272" y="394" width="9" height="11" fill="#960ad3"/><rect x="280" y="394" width="9" height="11" fill="#9d0ead"/><rect x="288" y="394" width="9" height="11" fill="#a61378"/><rect x="296" y="394" width="9" height="11" fill="#ab1752"/><rect x="304" y="394" width="9" height="11" fill="#ae1a35"/><rect x="312" y="394" width="9" height="11" fill="#b01c23"/><rect x="320" y="394" width="9" height="11" fill="#b11d1b"/><rect x="328" y="394" width="9" height="11" fill="#b31e0c"/><rect x="336" y="394" width="9" height="11" fill="#b42000"/><rect x="344" y="394" width="9" height="11" fill="#b62200"/><rect x="352" y="394" width="9" height="11" fill="#ba2700"/><rect x="360" y="394" width="10" height="11" fill="#c02e00"/><rect x="369" y="394" width="9" height="11" fill="#c13000"/><rect x="377" y="394" width="25" height="11" fill="#c23100"/><rect x="401" y="394" width="9" height="11" fill="#c33300"/><rect x="409" y="394" width="9" height="11" fill="#c73a00"/><rect x="417" y="394" width="9" height="11" fill="#cb4100"/><rect x="425" y="394" width="9" height="11" fill="#cf4a00"/><rect x="433" y="394" width="9" height="11" fill="#d24f00"/><rect x="441" y="394" width="9" height="11" fill="#d65a00"/><rect x="449" y="394" width="9" height="11" fill="#db6700"/><rect x="457" y="394" width="10" height="11" fill="#e07500"/><rect x="466" y="394" width="9" height="11" fill="#e68800"/><rect x="474" y="394" width="9" height="11" fill="#e78e00"/><rect x="482" y="394" width="9" height="11" fill="#e68b00"/><rect x="490" y="394" width="9" height="11" fill="#e48300"/><rect x="498" y="394" width="33" height="11" fill="#e68800"/><rect x="530" y="394" width="17" height="11" fill="#eca000"/><rect x="546" y="394" width="9" height="11" fill="#f1b600"/><rect x="554" y="394" width="18" height="11" fill="#f6cf00"/><rect x="571" y="394" width="138" height="11" fill="#f7d400"/><rect x="708" y="394" width="9" height="11" fill="#f6cf00"/><rect x="716" y="394" width="9" height="11" fill="#f3c100"/><rect x="724" y="394" width="9" height="11" fill="#e99400"/><rect x="732" y="394" width="9" height="11" fill="#ce4800"/><rect x="740" y="394" width="9" height="11" fill="#b62200"/><rect x="748" y="394" width="9" height="11" fill="#8605fb"/><rect x="756" y="394" width="10" height="11" fill="#5400a0"/><rect x="765" y="394" width="9" height="11" fill="#400061"/><rect x="773" y="394" width="259" height="11" fill="#3a0052"/><rect x="231" y="385" width="9" height="10" fill="#6f02ec"/><rect x="239" y="385" width="9" height="10" fill="#7703f9"/><rect x="247" y="385" width="9" height="10" fill="#8104ff"/><rect x="255" y="385" width="10" height="10" fill="#8605fb"/><rect x="264" y="385" width="9" height="10" fill="#8a06f6"/><rect x="272" y="385" width="9" height="10" fill="#8e08ec"/><rect x="280" y="385" width="9" height="10" fill="#9309dd"/><rect x="288" y="385" width="9" height="10" fill="#990cc3"/><rect x="296" y="385" width="9" height="10" fill="#9d0eb1"/><rect x="304" y="385" width="9" height="10" fill="#a00fa0"/><rect x="312" y="385" width="9" height="10" fill="#a11096"/><rect x="320" y="385" width="9" height="10" fill="#a41287"/><rect x="328" y="385" width="9" height="10" fill="#a61378"/><rect x="336" y="385" width="9" height="10" fill="#a81568"/><rect x="344" y="385" width="9" height="10" fill="#ad193e"/><rect x="352" y="385" width="9" height="10" fill="#b11c1e"/><rect x="360" y="385" width="10" height="10" fill="#b62200"/><rect x="369" y="385" width="9" height="10" fill="#ba2700"/><rect x="377" y="385" width="17" height="10" fill="#bd2a00"/><rect x="393" y="385" width="17" height="10" fill="#bf2d00"/><rect x="409" y="385" width="17" height="10" fill="#c23100"/><rect x="425" y="385" width="9" height="10" fill="#cb4100"/><rect x="433" y="385" width="9" height="10" fill="#cd4400"/><rect x="441" y="385" width="9" height="10" fill="#cf4a00"/><rect x="449" y="385" width="9" height="10" fill="#d24f00"/><rect x="457" y="385" width="10" height="10" fill="#d55700"/><rect x="466" y="385" width="9" height="10" fill="#db6700"/><rect x="474" y="385" width="9" height="10" fill="#de7000"/><rect x="482" y="385" width="9" height="10" fill="#e27b00"/><rect x="490" y="385" width="9" height="10" fill="#dc6900"/><rect x="498" y="385" width="33" height="10" fill="#e07500"/><rect x="530" y="385" width="17" height="10" fill="#e99400"/><rect x="546" y="385" width="9" height="10" fill="#eea900"/><rect x="554" y="385" width="18" height="10" fill="#f1b600"/><rect x="571" y="385" width="9" height="10" fill="#f2ba00"/><rect x="579" y="385" width="130" height="10" fill="#f7d400"/><rect x="708" y="385" width="9" height="10" fill="#f6cf00"/><rect x="716" y="385" width="9" height="10" fill="#f3c100"/><rect x="724" y="385" width="9" height="10" fill="#e99400"/><rect x="732" y="385" width="9" height="10" fill="#ce4800"/><rect x="740" y="385" width="9" height="10" fill="#b21e12"/><rect x="748" y="385" width="9" height="10" fill="#8605fb"/><rect x="756" y="385" width="10" height="10" fill="#5400a0"/><rect x="765" y="385" width="9" height="10" fill="#400061"/><rect x="773" y="385" width="259" height="10" fill="#3a0052"/><rect x="231" y="375" width="9" height="11" fill="#6901df"/><rect x="239" y="375" width="9" height="11" fill="#7302f4"/><rect x="247" y="375" width="9" height="11" fill="#7d03fe"/><rect x="255" y="375" width="10" height="11" fill="#8205fe"/><rect x="264" y="375" width="9" height="11" fill="#8605fb"/><rect x="272" y="375" width="9" height="11" fill="#8806f9"/><rect x="280" y="375" width="9" height="11" fill="#8a06f6"/><rect x="288" y="375" width="9" height="11" fill="#8c07f3"/><rect x="296" y="375" width="9" height="11" fill="#8e08ec"/><rect x="304" y="375" width="9" height="11" fill="#9109e3"/><rect x="312" y="375" width="9" height="11" fill="#9309dd"/><rect x="320" y="375" width="9" height="11" fill="#960ad3"/><rect x="328" y="375" width="9" height="11" fill="#980bc9"/><rect x="336" y="375" width="9" height="11" fill="#9c0db7"/><rect x="344" y="375" width="9" height="11" fill="#a00fa0"/><rect x="352" y="375" width="9" height="11" fill="#a41287"/><rect x="360" y="375" width="10" height="11" fill="#a81568"/><rect x="369" y="375" width="9" height="11" fill="#ae1a35"/><rect x="377" y="375" width="9" height="11" fill="#b11d1b"/><rect x="385" y="375" width="9" height="11" fill="#b31e0c"/><rect x="393" y="375" width="9" height="11" fill="#b62200"/><rect x="401" y="375" width="9" height="11" fill="#b82400"/><rect x="409" y="375" width="9" height="11" fill="#ba2700"/><rect x="417" y="375" width="9" height="11" fill="#bc2900"/><rect x="425" y="375" width="9" height="11" fill="#c53600"/><rect x="433" y="375" width="9" height="11" fill="#c73a00"/><rect x="441" y="375" width="9" height="11" fill="#c93d00"/><rect x="449" y="375" width="9" height="11" fill="#cb4100"/><rect x="457" y="375" width="10" height="11" fill="#cc4200"/><rect x="466" y="375" width="9" height="11" fill="#d45300"/><rect x="474" y="375" width="9" height="11" fill="#d65a00"/><rect x="482" y="375" width="9" height="11" fill="#d96000"/><rect x="490" y="375" width="9" height="11" fill="#d75c00"/><rect x="498" y="375" width="9" height="11" fill="#d96000"/><rect x="506" y="375" width="9" height="11" fill="#da6500"/><rect x="514" y="375" width="9" height="11" fill="#dc6900"/><rect x="522" y="375" width="9" height="11" fill="#e27d00"/><rect x="530" y="375" width="9" height="11" fill="#e99400"/><rect x="538" y="375" width="9" height="11" fill="#eca000"/><rect x="546" y="375" width="9" height="11" fill="#eea900"/><rect x="554" y="375" width="18" height="11" fill="#f1b600"/><rect x="571" y="375" width="17" height="11" fill="#f5c800"/><rect x="587" y="375" width="25" height="11" fill="#f6cf00"/><rect x="611" y="375" width="98" height="11" fill="#f7d400"/><rect x="708" y="375" width="9" height="11" fill="#f6cf00"/><rect x="716" y="375" width="9" height="11" fill="#f3c100"/><rect x="724" y="375" width="9" height="11" fill="#e78e00"/><rect x="732" y="375" width="9" height="11" fill="#cd4400"/><rect x="740" y="375" width="9" height="11" fill="#aa1657"/><rect x="748" y="375" width="9" height="11" fill="#8605fb"/><rect x="756" y="375" width="10" height="11" fill="#5400a0"/><rect x="765" y="375" width="9" height="11" fill="#400061"/><rect x="773" y="375" width="259" height="11" fill="#3a0052"/><rect x="231" y="365" width="9" height="11" fill="#6101c9"/><rect x="239" y="365" width="9" height="11" fill="#6d02e9"/><rect x="247" y="365" width="9" height="11" fill="#7803fb"/><rect x="255" y="365" width="10" height="11" fill="#8004ff"/><rect x="264" y="365" width="17" height="11" fill="#8205fe"/><rect x="280" y="365" width="17" height="11" fill="#8104ff"/><rect x="296" y="365" width="9" height="11" fill="#8004ff"/><rect x="304" y="365" width="9" height="11" fill="#7b03fe"/><rect x="312" y="365" width="9" height="11" fill="#7803fb"/><rect x="320" y="365" width="9" height="11" fill="#8004ff"/><rect x="328" y="365" width="9" height="11" fill="#8505fd"/><rect x="336" y="365" width="9" height="11" fill="#8806f9"/><rect x="344" y="365" width="9" height="11" fill="#8c07f3"/><rect x="352" y="365" width="9" height="11" fill="#8f08e9"/><rect x="360" y="365" width="10" height="11" fill="#960ad3"/><rect x="369" y="365" width="9" height="11" fill="#9d0ead"/><rect x="377" y="365" width="9" height="11" fill="#a41287"/><rect x="385" y="365" width="9" height="11" fill="#a61473"/><rect x="393" y="365" width="9" height="11" fill="#a81568"/><rect x="401" y="365" width="9" height="11" fill="#ab1752"/><rect x="409" y="365" width="9" height="11" fill="#ad193e"/><rect x="417" y="365" width="9" height="11" fill="#b11c1e"/><rect x="425" y="365" width="9" height="11" fill="#bc2900"/><rect x="433" y="365" width="9" height="11" fill="#bf2d00"/><rect x="441" y="365" width="9" height="11" fill="#c23100"/><rect x="449" y="365" width="9" height="11" fill="#c53600"/><rect x="457" y="365" width="10" height="11" fill="#bf2d00"/><rect x="466" y="365" width="9" height="11" fill="#ce4600"/><rect x="474" y="365" width="9" height="11" fill="#d04c00"/><rect x="482" y="365" width="9" height="11" fill="#d45300"/><rect x="490" y="365" width="9" height="11" fill="#d24f00"/><rect x="498" y="365" width="9" height="11" fill="#d45300"/><rect x="506" y="365" width="9" height="11" fill="#d55700"/><rect x="514" y="365" width="9" height="11" fill="#d75c00"/><rect x="522" y="365" width="9" height="11" fill="#da6500"/><rect x="530" y="365" width="9" height="11" fill="#e17800"/><rect x="538" y="365" width="9" height="11" fill="#e48300"/><rect x="546" y="365" width="26" height="11" fill="#e89100"/><rect x="571" y="365" width="17" height="11" fill="#eda600"/><rect x="587" y="365" width="9" height="11" fill="#f0b300"/><rect x="595" y="365" width="17" height="11" fill="#f3bd00"/><rect x="611" y="365" width="17" height="11" fill="#f5c800"/><rect x="627" y="365" width="9" height="11" fill="#f6cc00"/><rect x="635" y="365" width="74" height="11" fill="#f7d400"/><rect x="708" y="365" width="9" height="11" fill="#f6cf00"/><rect x="716" y="365" width="9" height="11" fill="#f2ba00"/><rect x="724" y="365" width="9" height="11" fill="#e68800"/><rect x="732" y="365" width="9" height="11" fill="#cd4400"/><rect x="740" y="365" width="9" height="11" fill="#a61378"/><rect x="748" y="365" width="9" height="11" fill="#8605fb"/><rect x="756" y="365" width="10" height="11" fill="#5400a0"/><rect x="765" y="365" width="9" height="11" fill="#400061"/><rect x="773" y="365" width="259" height="11" fill="#3a0052"/><rect x="239" y="355" width="9" height="11" fill="#4f0092"/><rect x="247" y="355" width="9" height="11" fill="#6801dd"/><rect x="255" y="355" width="10" height="11" fill="#7703f9"/><rect x="264" y="355" width="17" height="11" fill="#7d03fe"/><rect x="280" y="355" width="9" height="11" fill="#7b03fe"/><rect x="288" y="355" width="9" height="11" fill="#7703f9"/><rect x="296" y="355" width="9" height="11" fill="#6f02ec"/><rect x="304" y="355" width="9" height="11" fill="#5d01be"/><rect x="312" y="355" width="9" height="11" fill="#5500a4"/><rect x="320" y="355" width="9" height="11" fill="#6301ce"/><rect x="328" y="355" width="9" height="11" fill="#7302f4"/><rect x="336" y="355" width="9" height="11" fill="#7803fb"/><rect x="344" y="355" width="9" height="11" fill="#7b03fe"/><rect x="352" y="355" width="9" height="11" fill="#7e04ff"/><rect x="360" y="355" width="10" height="11" fill="#8205fe"/><rect x="369" y="355" width="9" height="11" fill="#8806f9"/><rect x="377" y="355" width="9" height="11" fill="#8e08ec"/><rect x="385" y="355" width="9" height="11" fill="#9109e3"/><rect x="393" y="355" width="9" height="11" fill="#960ad3"/><rect x="401" y="355" width="9" height="11" fill="#980bc9"/><rect x="409" y="355" width="9" height="11" fill="#9c0db7"/><rect x="417" y="355" width="9" height="11" fill="#a41287"/><rect x="425" y="355" width="9" height="11" fill="#ae1a35"/><rect x="433" y="355" width="9" height="11" fill="#ab1752"/><rect x="441" y="355" width="9" height="11" fill="#b82400"/><rect x="449" y="355" width="9" height="11" fill="#ba2700"/><rect x="457" y="355" width="10" height="11" fill="#ab1752"/><rect x="466" y="355" width="9" height="11" fill="#c23100"/><rect x="474" y="355" width="9" height="11" fill="#c73a00"/><rect x="482" y="355" width="9" height="11" fill="#cc4200"/><rect x="490" y="355" width="9" height="11" fill="#c73a00"/><rect x="498" y="355" width="9" height="11" fill="#c93d00"/><rect x="506" y="355" width="9" height="11" fill="#cd4400"/><rect x="514" y="355" width="9" height="11" fill="#d04c00"/><rect x="522" y="355" width="9" height="11" fill="#d45300"/><rect x="530" y="355" width="9" height="11" fill="#da6500"/><rect x="538" y="355" width="9" height="11" fill="#df7300"/><rect x="546" y="355" width="26" height="11" fill="#e07500"/><rect x="571" y="355" width="17" height="11" fill="#e68800"/><rect x="587" y="355" width="9" height="11" fill="#eca000"/><rect x="595" y="355" width="17" height="11" fill="#f0b000"/><rect x="611" y="355" width="17" height="11" fill="#f1b600"/><rect x="627" y="355" width="9" height="11" fill="#f3c100"/><rect x="635" y="355" width="9" height="11" fill="#f6cf00"/><rect x="643" y="355" width="66" height="11" fill="#f7d400"/><rect x="708" y="355" width="9" height="11" fill="#f6cf00"/><rect x="716" y="355" width="9" height="11" fill="#f2ba00"/><rect x="724" y="355" width="9" height="11" fill="#e68800"/><rect x="732" y="355" width="9" height="11" fill="#cd4400"/><rect x="740" y="355" width="9" height="11" fill="#a61378"/><rect x="748" y="355" width="9" height="11" fill="#8605fb"/><rect x="756" y="355" width="10" height="11" fill="#5400a0"/><rect x="765" y="355" width="9" height="11" fill="#3e005c"/><rect x="773" y="355" width="259" height="11" fill="#3a0052"/><rect x="239" y="345" width="9" height="11" fill="#43006d"/><rect x="247" y="345" width="9" height="11" fill="#5a01b5"/><rect x="255" y="345" width="10" height="11" fill="#6d02e9"/><rect x="264" y="345" width="9" height="11" fill="#7502f7"/><rect x="272" y="345" width="9" height="11" fill="#7703f9"/><rect x="280" y="345" width="9" height="11" fill="#7502f7"/><rect x="288" y="345" width="9" height="11" fill="#6f02ec"/><rect x="296" y="345" width="9" height="11" fill="#6301ce"/><rect x="304" y="345" width="9" height="11" fill="#4c0087"/><rect x="312" y="345" width="9" height="11" fill="#43006b"/><rect x="320" y="345" width="9" height="11" fill="#4c0087"/><rect x="328" y="345" width="9" height="11" fill="#5f01c3"/><rect x="336" y="345" width="9" height="11" fill="#6801dd"/><rect x="344" y="345" width="9" height="11" fill="#6d02e9"/><rect x="352" y="345" width="9" height="11" fill="#7002f0"/><rect x="360" y="345" width="10" height="11" fill="#7703f9"/><rect x="369" y="345" width="9" height="11" fill="#7d03fe"/><rect x="377" y="345" width="9" height="11" fill="#8104ff"/><rect x="385" y="345" width="9" height="11" fill="#8205fe"/><rect x="393" y="345" width="9" height="11" fill="#8505fd"/><rect x="401" y="345" width="9" height="11" fill="#8605fb"/><rect x="409" y="345" width="9" height="11" fill="#8a06f6"/><rect x="417" y="345" width="9" height="11" fill="#8e08ec"/><rect x="425" y="345" width="9" height="11" fill="#9309dd"/><rect x="433" y="345" width="9" height="11" fill="#990cc3"/><rect x="441" y="345" width="9" height="11" fill="#a41287"/><rect x="449" y="345" width="9" height="11" fill="#a61378"/><rect x="457" y="345" width="10" height="11" fill="#9109e3"/><rect x="466" y="345" width="9" height="11" fill="#a81568"/><rect x="474" y="345" width="9" height="11" fill="#b11c1e"/><rect x="482" y="345" width="9" height="11" fill="#b31e0c"/><rect x="490" y="345" width="9" height="11" fill="#b82400"/><rect x="498" y="345" width="9" height="11" fill="#b62200"/><rect x="506" y="345" width="9" height="11" fill="#c43400"/><rect x="514" y="345" width="9" height="11" fill="#c73a00"/><rect x="522" y="345" width="9" height="11" fill="#cc4200"/><rect x="530" y="345" width="17" height="11" fill="#d45300"/><rect x="546" y="345" width="26" height="11" fill="#da6500"/><rect x="571" y="345" width="9" height="11" fill="#de7000"/><rect x="579" y="345" width="9" height="11" fill="#e07500"/><rect x="587" y="345" width="9" height="11" fill="#e68800"/><rect x="595" y="345" width="33" height="11" fill="#eca000"/><rect x="627" y="345" width="9" height="11" fill="#f0b300"/><rect x="635" y="345" width="9" height="11" fill="#f5c800"/><rect x="643" y="345" width="9" height="11" fill="#f6cf00"/><rect x="651" y="345" width="58" height="11" fill="#f7d400"/><rect x="708" y="345" width="9" height="11" fill="#f6cf00"/><rect x="716" y="345" width="9" height="11" fill="#f2ba00"/><rect x="724" y="345" width="9" height="11" fill="#e48300"/><rect x="732" y="345" width="9" height="11" fill="#cd4400"/><rect x="740" y="345" width="9" height="11" fill="#a81568"/><rect x="748" y="345" width="9" height="11" fill="#8605fb"/><rect x="756" y="345" width="10" height="11" fill="#510096"/><rect x="765" y="345" width="9" height="11" fill="#3e005c"/><rect x="773" y="345" width="259" height="11" fill="#3a0052"/><rect x="239" y="336" width="9" height="10" fill="#3f0060"/><rect x="247" y="336" width="9" height="10" fill="#4f0092"/><rect x="255" y="336" width="10" height="10" fill="#6301ce"/><rect x="264" y="336" width="9" height="10" fill="#6d02e9"/><rect x="272" y="336" width="17" height="10" fill="#7002f0"/><rect x="288" y="336" width="9" height="10" fill="#6c01e5"/><rect x="296" y="336" width="9" height="10" fill="#5d01be"/><rect x="304" y="336" width="9" height="10" fill="#470078"/><rect x="312" y="336" width="9" height="10" fill="#3f0060"/><rect x="320" y="336" width="9" height="10" fill="#43006d"/><rect x="328" y="336" width="9" height="10" fill="#510096"/><rect x="336" y="336" width="9" height="10" fill="#5a01b5"/><rect x="344" y="336" width="9" height="10" fill="#5f01c3"/><rect x="352" y="336" width="9" height="10" fill="#6301ce"/><rect x="360" y="336" width="10" height="10" fill="#6901df"/><rect x="369" y="336" width="9" height="10" fill="#6f02ec"/><rect x="377" y="336" width="9" height="10" fill="#7402f6"/><rect x="385" y="336" width="9" height="10" fill="#7803fb"/><rect x="393" y="336" width="9" height="10" fill="#7b03fe"/><rect x="401" y="336" width="9" height="10" fill="#7d03fe"/><rect x="409" y="336" width="9" height="10" fill="#8004ff"/><rect x="417" y="336" width="9" height="10" fill="#8104ff"/><rect x="425" y="336" width="9" height="10" fill="#8505fd"/><rect x="433" y="336" width="9" height="10" fill="#8806f9"/><rect x="441" y="336" width="9" height="10" fill="#8e08ec"/><rect x="449" y="336" width="9" height="10" fill="#9109e3"/><rect x="457" y="336" width="10" height="10" fill="#8f08e9"/><rect x="466" y="336" width="9" height="10" fill="#8e08ec"/><rect x="474" y="336" width="9" height="10" fill="#960ad3"/><rect x="482" y="336" width="9" height="10" fill="#9d0ead"/><rect x="490" y="336" width="9" height="10" fill="#aa1657"/><rect x="498" y="336" width="9" height="10" fill="#a41287"/><rect x="506" y="336" width="9" height="10" fill="#b62200"/><rect x="514" y="336" width="9" height="10" fill="#bf2d00"/><rect x="522" y="336" width="9" height="10" fill="#c63700"/><rect x="530" y="336" width="17" height="10" fill="#d04c00"/><rect x="546" y="336" width="26" height="10" fill="#d85e00"/><rect x="571" y="336" width="9" height="10" fill="#da6500"/><rect x="579" y="336" width="9" height="10" fill="#dd6c00"/><rect x="587" y="336" width="9" height="10" fill="#e27d00"/><rect x="595" y="336" width="33" height="10" fill="#ea9700"/><rect x="627" y="336" width="9" height="10" fill="#eda600"/><rect x="635" y="336" width="9" height="10" fill="#f2ba00"/><rect x="643" y="336" width="9" height="10" fill="#f5c800"/><rect x="651" y="336" width="9" height="10" fill="#f6cf00"/><rect x="659" y="336" width="50" height="10" fill="#f7d400"/><rect x="708" y="336" width="9" height="10" fill="#f6cf00"/><rect x="716" y="336" width="9" height="10" fill="#f0b300"/><rect x="724" y="336" width="9" height="10" fill="#e48300"/><rect x="732" y="336" width="9" height="10" fill="#cd4400"/><rect x="740" y="336" width="9" height="10" fill="#aa1657"/><rect x="748" y="336" width="9" height="10" fill="#8505fd"/><rect x="756" y="336" width="10" height="10" fill="#510096"/><rect x="765" y="336" width="9" height="10" fill="#3e005c"/><rect x="773" y="336" width="259" height="10" fill="#3a0052"/><rect x="239" y="326" width="9" height="11" fill="#3f0060"/><rect x="247" y="326" width="9" height="11" fill="#49007c"/><rect x="255" y="326" width="10" height="11" fill="#5800af"/><rect x="264" y="326" width="9" height="11" fill="#6301ce"/><rect x="272" y="326" width="17" height="11" fill="#6801dd"/><rect x="288" y="326" width="9" height="11" fill="#6301ce"/><rect x="296" y="326" width="9" height="11" fill="#5400a1"/><rect x="304" y="326" width="9" height="11" fill="#43006b"/><rect x="312" y="326" width="9" height="11" fill="#3d005b"/><rect x="320" y="326" width="9" height="11" fill="#410064"/><rect x="328" y="326" width="9" height="11" fill="#49007c"/><rect x="336" y="326" width="9" height="11" fill="#510096"/><rect x="344" y="326" width="9" height="11" fill="#5500a4"/><rect x="352" y="326" width="9" height="11" fill="#5900b1"/><rect x="360" y="326" width="10" height="11" fill="#5d01be"/><rect x="369" y="326" width="9" height="11" fill="#6101c9"/><rect x="377" y="326" width="9" height="11" fill="#6501d3"/><rect x="385" y="326" width="9" height="11" fill="#6701db"/><rect x="393" y="326" width="9" height="11" fill="#6901df"/><rect x="401" y="326" width="9" height="11" fill="#6c01e5"/><rect x="409" y="326" width="9" height="11" fill="#6d02e9"/><rect x="417" y="326" width="9" height="11" fill="#6f02ec"/><rect x="425" y="326" width="9" height="11" fill="#7202f3"/><rect x="433" y="326" width="9" height="11" fill="#7803fb"/><rect x="441" y="326" width="9" height="11" fill="#8104ff"/><rect x="449" y="326" width="9" height="11" fill="#8505fd"/><rect x="457" y="326" width="10" height="11" fill="#8605fb"/><rect x="466" y="326" width="9" height="11" fill="#8505fd"/><rect x="474" y="326" width="9" height="11" fill="#8605fb"/><rect x="482" y="326" width="9" height="11" fill="#8c07f3"/><rect x="490" y="326" width="9" height="11" fill="#980bc9"/><rect x="498" y="326" width="9" height="11" fill="#9a0dbe"/><rect x="506" y="326" width="9" height="11" fill="#af1b2c"/><rect x="514" y="326" width="9" height="11" fill="#bc2900"/><rect x="522" y="326" width="9" height="11" fill="#c23100"/><rect x="530" y="326" width="17" height="11" fill="#cd4400"/><rect x="546" y="326" width="34" height="11" fill="#d55700"/><rect x="579" y="326" width="9" height="11" fill="#d75c00"/><rect x="587" y="326" width="9" height="11" fill="#dc6900"/><rect x="595" y="326" width="9" height="11" fill="#df7300"/><rect x="603" y="326" width="25" height="11" fill="#e17800"/><rect x="627" y="326" width="9" height="11" fill="#e78e00"/><rect x="635" y="326" width="9" height="11" fill="#eda600"/><rect x="643" y="326" width="9" height="11" fill="#f0b300"/><rect x="651" y="326" width="34" height="11" fill="#f3c100"/><rect x="684" y="326" width="9" height="11" fill="#f5c800"/><rect x="692" y="326" width="17" height="11" fill="#f6cf00"/><rect x="708" y="326" width="9" height="11" fill="#f5c800"/><rect x="716" y="326" width="9" height="11" fill="#efac00"/><rect x="724" y="326" width="9" height="11" fill="#e27d00"/><rect x="732" y="326" width="9" height="11" fill="#cd4400"/><rect x="740" y="326" width="9" height="11" fill="#a81568"/><rect x="748" y="326" width="9" height="11" fill="#8405fe"/><rect x="756" y="326" width="10" height="11" fill="#510096"/><rect x="765" y="326" width="9" height="11" fill="#3e005c"/><rect x="773" y="326" width="259" height="11" fill="#3a0052"/><rect x="247" y="316" width="9" height="11" fill="#3f005e"/><rect x="255" y="316" width="10" height="11" fill="#450070"/><rect x="264" y="316" width="9" height="11" fill="#520099"/><rect x="272" y="316" width="9" height="11" fill="#5b01b7"/><rect x="280" y="316" width="9" height="11" fill="#6101c9"/><rect x="288" y="316" width="9" height="11" fill="#5b01b7"/><rect x="296" y="316" width="9" height="11" fill="#4d008c"/><rect x="304" y="316" width="9" height="11" fill="#420067"/><rect x="312" y="316" width="41" height="11" fill="#3b0055"/><rect x="352" y="316" width="9" height="11" fill="#3d0059"/><rect x="360" y="316" width="10" height="11" fill="#420067"/><rect x="369" y="316" width="9" height="11" fill="#49007e"/><rect x="377" y="316" width="17" height="11" fill="#520099"/><rect x="393" y="316" width="25" height="11" fill="#5600a9"/><rect x="417" y="316" width="9" height="11" fill="#5b01b7"/><rect x="425" y="316" width="9" height="11" fill="#6f02ec"/><rect x="433" y="316" width="9" height="11" fill="#7502f7"/><rect x="441" y="316" width="9" height="11" fill="#7e04ff"/><rect x="449" y="316" width="9" height="11" fill="#8405fe"/><rect x="457" y="316" width="10" height="11" fill="#8605fb"/><rect x="466" y="316" width="9" height="11" fill="#8906f7"/><rect x="474" y="316" width="9" height="11" fill="#8c07f3"/><rect x="482" y="316" width="9" height="11" fill="#8e08ec"/><rect x="490" y="316" width="9" height="11" fill="#9109e5"/><rect x="498" y="316" width="9" height="11" fill="#960ad3"/><rect x="506" y="316" width="9" height="11" fill="#a41287"/><rect x="514" y="316" width="9" height="11" fill="#b62200"/><rect x="522" y="316" width="9" height="11" fill="#bc2900"/><rect x="530" y="316" width="17" height="11" fill="#c63900"/><rect x="546" y="316" width="34" height="11" fill="#d04c00"/><rect x="579" y="316" width="9" height="11" fill="#d14d00"/><rect x="587" y="316" width="9" height="11" fill="#d55700"/><rect x="595" y="316" width="9" height="11" fill="#d96000"/><rect x="603" y="316" width="25" height="11" fill="#da6500"/><rect x="627" y="316" width="9" height="11" fill="#e17800"/><rect x="635" y="316" width="9" height="11" fill="#e68800"/><rect x="643" y="316" width="9" height="11" fill="#e99400"/><rect x="651" y="316" width="9" height="11" fill="#ea9a00"/><rect x="659" y="316" width="10" height="11" fill="#e99400"/><rect x="668" y="316" width="9" height="11" fill="#e78e00"/><rect x="676" y="316" width="9" height="11" fill="#e99400"/><rect x="684" y="316" width="9" height="11" fill="#eda600"/><rect x="692" y="316" width="9" height="11" fill="#f0b300"/><rect x="700" y="316" width="9" height="11" fill="#f2ba00"/><rect x="708" y="316" width="9" height="11" fill="#f0b300"/><rect x="716" y="316" width="9" height="11" fill="#eca000"/><rect x="724" y="316" width="9" height="11" fill="#e17800"/><rect x="732" y="316" width="9" height="11" fill="#cd4400"/><rect x="740" y="316" width="9" height="11" fill="#a41287"/><rect x="748" y="316" width="9" height="11" fill="#8104ff"/><rect x="756" y="316" width="10" height="11" fill="#4e008c"/><rect x="765" y="316" width="9" height="11" fill="#3e005c"/><rect x="773" y="316" width="259" height="11" fill="#3a0052"/><rect x="247" y="306" width="9" height="11" fill="#3f005e"/><rect x="255" y="306" width="10" height="11" fill="#420067"/><rect x="264" y="306" width="9" height="11" fill="#450070"/><rect x="272" y="306" width="9" height="11" fill="#520099"/><rect x="280" y="306" width="9" height="11" fill="#5600a9"/><rect x="288" y="306" width="9" height="11" fill="#520099"/><rect x="296" y="306" width="9" height="11" fill="#450070"/><rect x="304" y="306" width="9" height="11" fill="#3f005e"/><rect x="312" y="306" width="49" height="11" fill="#3b0055"/><rect x="360" y="306" width="10" height="11" fill="#3f005e"/><rect x="369" y="306" width="9" height="11" fill="#450070"/><rect x="377" y="306" width="17" height="11" fill="#4d008c"/><rect x="393" y="306" width="33" height="11" fill="#520099"/><rect x="425" y="306" width="9" height="11" fill="#6101c9"/><rect x="433" y="306" width="9" height="11" fill="#6801dd"/><rect x="441" y="306" width="9" height="11" fill="#7502f7"/><rect x="449" y="306" width="9" height="11" fill="#7e04ff"/><rect x="457" y="306" width="10" height="11" fill="#8405fe"/><rect x="466" y="306" width="9" height="11" fill="#8605fb"/><rect x="474" y="306" width="9" height="11" fill="#8906f7"/><rect x="482" y="306" width="9" height="11" fill="#8c07f3"/><rect x="490" y="306" width="9" height="11" fill="#8e08ec"/><rect x="498" y="306" width="9" height="11" fill="#8c07f3"/><rect x="506" y="306" width="9" height="11" fill="#940ad8"/><rect x="514" y="306" width="9" height="11" fill="#a5127f"/><rect x="522" y="306" width="9" height="11" fill="#b01c23"/><rect x="530" y="306" width="25" height="11" fill="#be2c00"/><rect x="554" y="306" width="10" height="11" fill="#bf2d00"/><rect x="563" y="306" width="9" height="11" fill="#c02e00"/><rect x="571" y="306" width="9" height="11" fill="#c23100"/><rect x="579" y="306" width="9" height="11" fill="#c63700"/><rect x="587" y="306" width="9" height="11" fill="#c93d00"/><rect x="595" y="306" width="9" height="11" fill="#cd4400"/><rect x="603" y="306" width="9" height="11" fill="#ce4800"/><rect x="611" y="306" width="9" height="11" fill="#d04c00"/><rect x="619" y="306" width="9" height="11" fill="#d75c00"/><rect x="627" y="306" width="9" height="11" fill="#de6e00"/><rect x="635" y="306" width="9" height="11" fill="#e17800"/><rect x="643" y="306" width="9" height="11" fill="#dc6900"/><rect x="651" y="306" width="9" height="11" fill="#da6500"/><rect x="659" y="306" width="10" height="11" fill="#d75c00"/><rect x="668" y="306" width="9" height="11" fill="#d96000"/><rect x="676" y="306" width="9" height="11" fill="#da6500"/><rect x="684" y="306" width="9" height="11" fill="#de6e00"/><rect x="692" y="306" width="9" height="11" fill="#e48300"/><rect x="700" y="306" width="17" height="11" fill="#e78e00"/><rect x="716" y="306" width="9" height="11" fill="#e17800"/><rect x="724" y="306" width="9" height="11" fill="#da6500"/><rect x="732" y="306" width="9" height="11" fill="#c93d00"/><rect x="740" y="306" width="9" height="11" fill="#980bc9"/><rect x="748" y="306" width="9" height="11" fill="#7502f7"/><rect x="756" y="306" width="10" height="11" fill="#4c0087"/><rect x="765" y="306" width="9" height="11" fill="#3d005b"/><rect x="773" y="306" width="259" height="11" fill="#3a0052"/><rect x="264" y="296" width="9" height="11" fill="#420068"/><rect x="272" y="296" width="9" height="11" fill="#4c0087"/><rect x="280" y="296" width="17" height="11" fill="#510096"/><rect x="296" y="296" width="9" height="11" fill="#4a007f"/><rect x="304" y="296" width="9" height="11" fill="#420068"/><rect x="312" y="296" width="49" height="11" fill="#3c0057"/><rect x="360" y="296" width="10" height="11" fill="#3f0060"/><rect x="369" y="296" width="9" height="11" fill="#470078"/><rect x="377" y="296" width="17" height="11" fill="#4e008f"/><rect x="393" y="296" width="25" height="11" fill="#53009d"/><rect x="417" y="296" width="9" height="11" fill="#5500a4"/><rect x="425" y="296" width="9" height="11" fill="#5900b1"/><rect x="433" y="296" width="9" height="11" fill="#6101c9"/><rect x="441" y="296" width="9" height="11" fill="#6f02ec"/><rect x="449" y="296" width="9" height="11" fill="#7b03fe"/><rect x="457" y="296" width="34" height="11" fill="#8405fe"/><rect x="490" y="296" width="9" height="11" fill="#8505fd"/><rect x="498" y="296" width="9" height="11" fill="#8605fb"/><rect x="506" y="296" width="9" height="11" fill="#8806f9"/><rect x="514" y="296" width="9" height="11" fill="#8906f7"/><rect x="522" y="296" width="9" height="11" fill="#8c07f3"/><rect x="530" y="296" width="9" height="11" fill="#9109e5"/><rect x="538" y="296" width="9" height="11" fill="#940ad8"/><rect x="546" y="296" width="9" height="11" fill="#990cc3"/><rect x="554" y="296" width="10" height="11" fill="#9d0eb1"/><rect x="563" y="296" width="9" height="11" fill="#a11096"/><rect x="571" y="296" width="9" height="11" fill="#a61473"/><rect x="579" y="296" width="9" height="11" fill="#b82400"/><rect x="587" y="296" width="17" height="11" fill="#bc2900"/><rect x="603" y="296" width="9" height="11" fill="#be2c00"/><rect x="611" y="296" width="9" height="11" fill="#c23100"/><rect x="619" y="296" width="9" height="11" fill="#c93d00"/><rect x="627" y="296" width="9" height="11" fill="#d75c00"/><rect x="635" y="296" width="9" height="11" fill="#d96000"/><rect x="643" y="296" width="9" height="11" fill="#d75c00"/><rect x="651" y="296" width="9" height="11" fill="#cd4400"/><rect x="659" y="296" width="10" height="11" fill="#c63700"/><rect x="668" y="296" width="17" height="11" fill="#c93d00"/><rect x="684" y="296" width="9" height="11" fill="#cd4400"/><rect x="692" y="296" width="9" height="11" fill="#d45300"/><rect x="700" y="296" width="9" height="11" fill="#d75c00"/><rect x="708" y="296" width="17" height="11" fill="#da6500"/><rect x="724" y="296" width="9" height="11" fill="#cd4400"/><rect x="732" y="296" width="9" height="11" fill="#a11096"/><rect x="740" y="296" width="9" height="11" fill="#7e04ff"/><rect x="748" y="296" width="9" height="11" fill="#4c0087"/><rect x="756" y="296" width="10" height="11" fill="#3c0057"/><rect x="765" y="296" width="9" height="11" fill="#3a0053"/><rect x="773" y="296" width="259" height="11" fill="#3a0052"/><rect x="264" y="287" width="17" height="10" fill="#3f0060"/><rect x="280" y="287" width="9" height="10" fill="#420068"/><rect x="288" y="287" width="9" height="10" fill="#450070"/><rect x="296" y="287" width="9" height="10" fill="#420068"/><rect x="304" y="287" width="66" height="10" fill="#3a0052"/><rect x="369" y="287" width="9" height="10" fill="#420068"/><rect x="377" y="287" width="17" height="10" fill="#470078"/><rect x="393" y="287" width="25" height="10" fill="#4c0087"/><rect x="417" y="287" width="9" height="10" fill="#4e008f"/><rect x="425" y="287" width="9" height="10" fill="#510096"/><rect x="433" y="287" width="9" height="10" fill="#5d01be"/><rect x="441" y="287" width="9" height="10" fill="#6a01e1"/><rect x="449" y="287" width="9" height="10" fill="#7803fb"/><rect x="457" y="287" width="18" height="10" fill="#8104ff"/><rect x="474" y="287" width="9" height="10" fill="#7e04ff"/><rect x="482" y="287" width="9" height="10" fill="#7b03fe"/><rect x="490" y="287" width="74" height="10" fill="#7d03fe"/><rect x="563" y="287" width="9" height="10" fill="#8104ff"/><rect x="571" y="287" width="9" height="10" fill="#8c07f3"/><rect x="579" y="287" width="9" height="10" fill="#a00fa0"/><rect x="587" y="287" width="9" height="10" fill="#b11c1e"/><rect x="595" y="287" width="9" height="10" fill="#b42000"/><rect x="603" y="287" width="9" height="10" fill="#b62200"/><rect x="611" y="287" width="9" height="10" fill="#ba2700"/><rect x="619" y="287" width="9" height="10" fill="#be2c00"/><rect x="627" y="287" width="9" height="10" fill="#c93d00"/><rect x="635" y="287" width="9" height="10" fill="#cd4400"/><rect x="643" y="287" width="9" height="10" fill="#c93d00"/><rect x="651" y="287" width="9" height="10" fill="#be2c00"/><rect x="659" y="287" width="10" height="10" fill="#ac1846"/><rect x="668" y="287" width="9" height="10" fill="#b62200"/><rect x="676" y="287" width="9" height="10" fill="#b82400"/><rect x="684" y="287" width="9" height="10" fill="#ba2700"/><rect x="692" y="287" width="9" height="10" fill="#be2c00"/><rect x="700" y="287" width="9" height="10" fill="#c63700"/><rect x="708" y="287" width="17" height="10" fill="#cb4100"/><rect x="724" y="287" width="9" height="10" fill="#ba2700"/><rect x="732" y="287" width="9" height="10" fill="#8605fb"/><rect x="740" y="287" width="9" height="10" fill="#5900b1"/><rect x="748" y="287" width="9" height="10" fill="#3d005b"/><rect x="756" y="287" width="10" height="10" fill="#3b0054"/><rect x="765" y="287" width="267" height="10" fill="#3a0052"/><rect x="280" y="277" width="98" height="11" fill="#3a0052"/><rect x="377" y="277" width="17" height="11" fill="#3f0060"/><rect x="393" y="277" width="25" height="11" fill="#450070"/><rect x="417" y="277" width="9" height="11" fill="#470078"/><rect x="425" y="277" width="9" height="11" fill="#4c0087"/><rect x="433" y="277" width="9" height="11" fill="#5900b1"/><rect x="441" y="277" width="9" height="11" fill="#6601d8"/><rect x="449" y="277" width="9" height="11" fill="#7502f7"/><rect x="457" y="277" width="18" height="11" fill="#7e04ff"/><rect x="474" y="277" width="9" height="11" fill="#7502f7"/><rect x="482" y="277" width="9" height="11" fill="#6d02e9"/><rect x="490" y="277" width="49" height="11" fill="#6901df"/><rect x="538" y="277" width="26" height="11" fill="#7002f0"/><rect x="563" y="277" width="9" height="11" fill="#7703f9"/><rect x="571" y="277" width="9" height="11" fill="#8004ff"/><rect x="579" y="277" width="9" height="11" fill="#8505fd"/><rect x="587" y="277" width="9" height="11" fill="#8e08ec"/><rect x="595" y="277" width="9" height="11" fill="#960ad3"/><rect x="603" y="277" width="9" height="11" fill="#9f0fa4"/><rect x="611" y="277" width="9" height="11" fill="#a81568"/><rect x="619" y="277" width="9" height="11" fill="#b01c23"/><rect x="627" y="277" width="9" height="11" fill="#b72300"/><rect x="635" y="277" width="9" height="11" fill="#b82400"/><rect x="643" y="277" width="9" height="11" fill="#b62200"/><rect x="651" y="277" width="9" height="11" fill="#b01c23"/><rect x="659" y="277" width="10" height="11" fill="#960ad3"/><rect x="668" y="277" width="9" height="11" fill="#a11096"/><rect x="676" y="277" width="17" height="11" fill="#a41287"/><rect x="692" y="277" width="9" height="11" fill="#a81568"/><rect x="700" y="277" width="9" height="11" fill="#b01c23"/><rect x="708" y="277" width="17" height="11" fill="#b62200"/><rect x="724" y="277" width="9" height="11" fill="#9d0eb1"/><rect x="732" y="277" width="9" height="11" fill="#8405fe"/><rect x="740" y="277" width="9" height="11" fill="#470078"/><rect x="748" y="277" width="9" height="11" fill="#3c0058"/><rect x="756" y="277" width="10" height="11" fill="#3a0053"/><rect x="765" y="277" width="267" height="11" fill="#3a0052"/><rect x="288" y="267" width="106" height="11" fill="#3a0052"/><rect x="393" y="267" width="17" height="11" fill="#3f0060"/><rect x="409" y="267" width="17" height="11" fill="#420068"/><rect x="425" y="267" width="9" height="11" fill="#49007c"/><rect x="433" y="267" width="9" height="11" fill="#5500a4"/><rect x="441" y="267" width="9" height="11" fill="#6301ce"/><rect x="449" y="267" width="9" height="11" fill="#7202f3"/><rect x="457" y="267" width="18" height="11" fill="#7b03fe"/><rect x="474" y="267" width="9" height="11" fill="#7002f0"/><rect x="482" y="267" width="9" height="11" fill="#6701db"/><rect x="490" y="267" width="49" height="11" fill="#6101c9"/><rect x="538" y="267" width="9" height="11" fill="#6501d3"/><rect x="546" y="267" width="18" height="11" fill="#6901df"/><rect x="563" y="267" width="17" height="11" fill="#7002f0"/><rect x="579" y="267" width="9" height="11" fill="#7703f9"/><rect x="587" y="267" width="9" height="11" fill="#7d03fe"/><rect x="595" y="267" width="9" height="11" fill="#8205fe"/><rect x="603" y="267" width="9" height="11" fill="#8906f7"/><rect x="611" y="267" width="9" height="11" fill="#8c07f3"/><rect x="619" y="267" width="9" height="11" fill="#8d07f0"/><rect x="627" y="267" width="9" height="11" fill="#8e08ec"/><rect x="635" y="267" width="25" height="11" fill="#8906f7"/><rect x="659" y="267" width="10" height="11" fill="#8405fe"/><rect x="668" y="267" width="9" height="11" fill="#8205fe"/><rect x="676" y="267" width="9" height="11" fill="#8104ff"/><rect x="684" y="267" width="9" height="11" fill="#8205fe"/><rect x="692" y="267" width="9" height="11" fill="#8405fe"/><rect x="700" y="267" width="9" height="11" fill="#8605fb"/><rect x="708" y="267" width="9" height="11" fill="#8806f9"/><rect x="716" y="267" width="9" height="11" fill="#8906f7"/><rect x="724" y="267" width="9" height="11" fill="#8405fe"/><rect x="732" y="267" width="9" height="11" fill="#7803fb"/><rect x="740" y="267" width="9" height="11" fill="#43006d"/><rect x="748" y="267" width="9" height="11" fill="#3e005c"/><rect x="756" y="267" width="10" height="11" fill="#3b0053"/><rect x="765" y="267" width="267" height="11" fill="#3a0052"/><rect x="288" y="257" width="114" height="11" fill="#3a0052"/><rect x="401" y="257" width="25" height="11" fill="#3e005d"/><rect x="425" y="257" width="9" height="11" fill="#450070"/><rect x="433" y="257" width="9" height="11" fill="#510096"/><rect x="441" y="257" width="9" height="11" fill="#5d01be"/><rect x="449" y="257" width="9" height="11" fill="#6d02e9"/><rect x="457" y="257" width="18" height="11" fill="#7b03fe"/><rect x="474" y="257" width="9" height="11" fill="#6c01e5"/><rect x="482" y="257" width="9" height="11" fill="#5d01be"/><rect x="490" y="257" width="49" height="11" fill="#5900b1"/><rect x="538" y="257" width="9" height="11" fill="#5d01be"/><rect x="546" y="257" width="18" height="11" fill="#6301ce"/><rect x="563" y="257" width="17" height="11" fill="#6901df"/><rect x="579" y="257" width="9" height="11" fill="#6f02ec"/><rect x="587" y="257" width="9" height="11" fill="#7002f0"/><rect x="595" y="257" width="9" height="11" fill="#7202f3"/><rect x="603" y="257" width="9" height="11" fill="#7803fb"/><rect x="611" y="257" width="9" height="11" fill="#7a03fd"/><rect x="619" y="257" width="25" height="11" fill="#7b03fe"/><rect x="643" y="257" width="9" height="11" fill="#7a03fd"/><rect x="651" y="257" width="9" height="11" fill="#7502f7"/><rect x="659" y="257" width="42" height="11" fill="#7202f3"/><rect x="700" y="257" width="9" height="11" fill="#7402f5"/><rect x="708" y="257" width="17" height="11" fill="#7502f7"/><rect x="724" y="257" width="9" height="11" fill="#6f02ec"/><rect x="732" y="257" width="9" height="11" fill="#5600a7"/><rect x="740" y="257" width="9" height="11" fill="#3d0059"/><rect x="748" y="257" width="9" height="11" fill="#3b0055"/><rect x="756" y="257" width="276" height="11" fill="#3a0052"/><rect x="288" y="247" width="114" height="11" fill="#3a0052"/><rect x="401" y="247" width="25" height="11" fill="#3d0059"/><rect x="425" y="247" width="9" height="11" fill="#420068"/><rect x="433" y="247" width="9" height="11" fill="#4c0087"/><rect x="441" y="247" width="9" height="11" fill="#5700ab"/><rect x="449" y="247" width="9" height="11" fill="#6801dd"/><rect x="457" y="247" width="18" height="11" fill="#7b03fe"/><rect x="474" y="247" width="9" height="11" fill="#6801dd"/><rect x="482" y="247" width="9" height="11" fill="#5500a4"/><rect x="490" y="247" width="49" height="11" fill="#4c0087"/><rect x="538" y="247" width="9" height="11" fill="#5700ab"/><rect x="546" y="247" width="9" height="11" fill="#5d01be"/><rect x="554" y="247" width="10" height="11" fill="#6101c9"/><rect x="563" y="247" width="9" height="11" fill="#6301ce"/><rect x="571" y="247" width="9" height="11" fill="#6501d3"/><rect x="579" y="247" width="9" height="11" fill="#6801dd"/><rect x="587" y="247" width="9" height="11" fill="#6c01e5"/><rect x="595" y="247" width="25" height="11" fill="#6d02e9"/><rect x="619" y="247" width="9" height="11" fill="#7002f0"/><rect x="627" y="247" width="25" height="11" fill="#7803fb"/><rect x="651" y="247" width="9" height="11" fill="#6901df"/><rect x="659" y="247" width="26" height="11" fill="#5900b1"/><rect x="684" y="247" width="9" height="11" fill="#4e008f"/><rect x="692" y="247" width="17" height="11" fill="#49007e"/><rect x="708" y="247" width="9" height="11" fill="#43006d"/><rect x="716" y="247" width="9" height="11" fill="#410065"/><rect x="724" y="247" width="9" height="11" fill="#3e005d"/><rect x="732" y="247" width="9" height="11" fill="#3b0055"/><rect x="740" y="247" width="9" height="11" fill="#3c0057"/><rect x="748" y="247" width="9" height="11" fill="#3a0053"/><rect x="756" y="247" width="276" height="11" fill="#3a0052"/><rect x="296" y="238" width="130" height="10" fill="#3a0052"/><rect x="425" y="238" width="9" height="10" fill="#3f0060"/><rect x="433" y="238" width="9" height="10" fill="#470078"/><rect x="441" y="238" width="9" height="10" fill="#53009d"/><rect x="449" y="238" width="9" height="10" fill="#6801dd"/><rect x="457" y="238" width="18" height="10" fill="#7b03fe"/><rect x="474" y="238" width="9" height="10" fill="#6501d3"/><rect x="482" y="238" width="9" height="10" fill="#4c0087"/><rect x="490" y="238" width="49" height="10" fill="#43006b"/><rect x="538" y="238" width="9" height="10" fill="#450070"/><rect x="546" y="238" width="9" height="10" fill="#53009d"/><rect x="554" y="238" width="34" height="10" fill="#5d01be"/><rect x="587" y="238" width="33" height="10" fill="#6601d8"/><rect x="619" y="238" width="9" height="10" fill="#6c01e5"/><rect x="627" y="238" width="25" height="10" fill="#7b03fe"/><rect x="651" y="238" width="9" height="10" fill="#5a01b5"/><rect x="659" y="238" width="10" height="10" fill="#450070"/><rect x="668" y="238" width="9" height="10" fill="#3f0060"/><rect x="676" y="238" width="9" height="10" fill="#3f0061"/><rect x="684" y="238" width="9" height="10" fill="#3e005d"/><rect x="692" y="238" width="9" height="10" fill="#3d0059"/><rect x="700" y="238" width="17" height="10" fill="#3f005f"/><rect x="716" y="238" width="9" height="10" fill="#3e005d"/><rect x="724" y="238" width="9" height="10" fill="#3d005b"/><rect x="732" y="238" width="9" height="10" fill="#3c0056"/><rect x="740" y="238" width="9" height="10" fill="#3a0053"/><rect x="748" y="238" width="284" height="10" fill="#3a0052"/><rect x="312" y="228" width="114" height="11" fill="#3a0052"/><rect x="425" y="228" width="9" height="11" fill="#3c0057"/><rect x="433" y="228" width="9" height="11" fill="#420068"/><rect x="441" y="228" width="9" height="11" fill="#4c0087"/><rect x="449" y="228" width="9" height="11" fill="#6801dd"/><rect x="457" y="228" width="18" height="11" fill="#7b03fe"/><rect x="474" y="228" width="9" height="11" fill="#6301ce"/><rect x="482" y="228" width="9" height="11" fill="#4a007f"/><rect x="490" y="228" width="49" height="11" fill="#3c0057"/><rect x="538" y="228" width="9" height="11" fill="#420068"/><rect x="546" y="228" width="9" height="11" fill="#510096"/><rect x="554" y="228" width="34" height="11" fill="#5900b1"/><rect x="587" y="228" width="33" height="11" fill="#6501d3"/><rect x="619" y="228" width="9" height="11" fill="#6801dd"/><rect x="627" y="228" width="25" height="11" fill="#7703f9"/><rect x="651" y="228" width="9" height="11" fill="#510096"/><rect x="659" y="228" width="18" height="11" fill="#3f0060"/><rect x="676" y="228" width="9" height="11" fill="#3d005b"/><rect x="684" y="228" width="9" height="11" fill="#3c0058"/><rect x="692" y="228" width="33" height="11" fill="#3c0057"/><rect x="724" y="228" width="9" height="11" fill="#3b0056"/><rect x="732" y="228" width="9" height="11" fill="#3b0053"/><rect x="740" y="228" width="276" height="11" fill="#3a0052"/><rect x="320" y="218" width="82" height="11" fill="#3a0052"/><rect x="417" y="218" width="17" height="11" fill="#3a0052"/><rect x="433" y="218" width="9" height="11" fill="#3f0060"/><rect x="441" y="218" width="9" height="11" fill="#450070"/><rect x="449" y="218" width="9" height="11" fill="#6501d3"/><rect x="457" y="218" width="18" height="11" fill="#7803fb"/><rect x="474" y="218" width="9" height="11" fill="#6101c9"/><rect x="482" y="218" width="9" height="11" fill="#470078"/><rect x="490" y="218" width="57" height="11" fill="#3a0052"/><rect x="546" y="218" width="9" height="11" fill="#4e008f"/><rect x="554" y="218" width="34" height="11" fill="#5700ab"/><rect x="587" y="218" width="33" height="11" fill="#6101c9"/><rect x="619" y="218" width="33" height="11" fill="#5f01c3"/><rect x="651" y="218" width="9" height="11" fill="#450070"/><rect x="659" y="218" width="10" height="11" fill="#3e005d"/><rect x="668" y="218" width="9" height="11" fill="#3c0058"/><rect x="676" y="218" width="41" height="11" fill="#3c0056"/><rect x="716" y="218" width="9" height="11" fill="#3b0055"/><rect x="724" y="218" width="9" height="11" fill="#3b0054"/><rect x="732" y="218" width="9" height="11" fill="#3a0053"/><rect x="740" y="218" width="260" height="11" fill="#3a0052"/><rect x="320" y="208" width="74" height="11" fill="#3a0052"/><rect x="417" y="208" width="17" height="11" fill="#3a0052"/><rect x="433" y="208" width="9" height="11" fill="#3c0057"/><rect x="441" y="208" width="9" height="11" fill="#3f0060"/><rect x="449" y="208" width="9" height="11" fill="#5800af"/><rect x="457" y="208" width="18" height="11" fill="#7002f0"/><rect x="474" y="208" width="9" height="11" fill="#5900b1"/><rect x="482" y="208" width="9" height="11" fill="#420068"/><rect x="490" y="208" width="49" height="11" fill="#3a0052"/><rect x="538" y="208" width="9" height="11" fill="#3f0060"/><rect x="546" y="208" width="9" height="11" fill="#4c0087"/><rect x="554" y="208" width="34" height="11" fill="#53009d"/><rect x="587" y="208" width="33" height="11" fill="#5d01be"/><rect x="619" y="208" width="33" height="11" fill="#4c0087"/><rect x="651" y="208" width="9" height="11" fill="#3f0060"/><rect x="659" y="208" width="10" height="11" fill="#3c0057"/><rect x="668" y="208" width="9" height="11" fill="#3c0056"/><rect x="676" y="208" width="9" height="11" fill="#3b0055"/><rect x="684" y="208" width="41" height="11" fill="#3b0054"/><rect x="724" y="208" width="9" height="11" fill="#3b0053"/><rect x="732" y="208" width="244" height="11" fill="#3a0052"/><rect x="328" y="198" width="66" height="11" fill="#3a0052"/><rect x="417" y="198" width="33" height="11" fill="#3a0052"/><rect x="449" y="198" width="9" height="11" fill="#450070"/><rect x="457" y="198" width="18" height="11" fill="#6101c9"/><rect x="474" y="198" width="9" height="11" fill="#4c0087"/><rect x="482" y="198" width="65" height="11" fill="#3a0052"/><rect x="546" y="198" width="9" height="11" fill="#450070"/><rect x="554" y="198" width="34" height="11" fill="#4a007f"/><rect x="587" y="198" width="33" height="11" fill="#4c0087"/><rect x="619" y="198" width="9" height="11" fill="#3d005b"/><rect x="627" y="198" width="9" height="11" fill="#3f005f"/><rect x="635" y="198" width="9" height="11" fill="#3e005e"/><rect x="643" y="198" width="9" height="11" fill="#3c0057"/><rect x="651" y="198" width="18" height="11" fill="#3b0055"/><rect x="668" y="198" width="9" height="11" fill="#3b0054"/><rect x="676" y="198" width="49" height="11" fill="#3b0053"/><rect x="724" y="198" width="235" height="11" fill="#3a0052"/><rect x="328" y="189" width="122" height="10" fill="#3a0052"/><rect x="449" y="189" width="9" height="10" fill="#3d005b"/><rect x="457" y="189" width="18" height="10" fill="#53009d"/><rect x="474" y="189" width="9" height="10" fill="#3f0060"/><rect x="482" y="189" width="65" height="10" fill="#3a0052"/><rect x="546" y="189" width="42" height="10" fill="#420068"/><rect x="587" y="189" width="17" height="10" fill="#3a0052"/><rect x="603" y="189" width="9" height="10" fill="#3d0059"/><rect x="611" y="189" width="9" height="10" fill="#3b0056"/><rect x="619" y="189" width="17" height="10" fill="#3b0054"/><rect x="635" y="189" width="25" height="10" fill="#3b0053"/><rect x="659" y="189" width="10" height="10" fill="#3a0053"/><rect x="668" y="189" width="267" height="10" fill="#3a0052"/><rect x="328" y="179" width="106" height="11" fill="#3a0052"/><rect x="433" y="179" width="9" height="11" fill="#3a0053"/><rect x="441" y="179" width="9" height="11" fill="#3b0055"/><rect x="449" y="179" width="9" height="11" fill="#3d005a"/><rect x="457" y="179" width="18" height="11" fill="#3f0060"/><rect x="474" y="179" width="17" height="11" fill="#3b0055"/><rect x="490" y="179" width="9" height="11" fill="#3b0054"/><rect x="498" y="179" width="9" height="11" fill="#3a0053"/><rect x="506" y="179" width="25" height="11" fill="#3a0052"/><rect x="530" y="179" width="9" height="11" fill="#3b0053"/><rect x="538" y="179" width="9" height="11" fill="#3c0058"/><rect x="546" y="179" width="9" height="11" fill="#3f005e"/><rect x="554" y="179" width="10" height="11" fill="#400061"/><rect x="563" y="179" width="9" height="11" fill="#3e005e"/><rect x="571" y="179" width="9" height="11" fill="#3e005c"/><rect x="579" y="179" width="9" height="11" fill="#3d0059"/><rect x="587" y="179" width="9" height="11" fill="#3c0056"/><rect x="595" y="179" width="9" height="11" fill="#3b0054"/><rect x="603" y="179" width="17" height="11" fill="#3b0053"/><rect x="619" y="179" width="9" height="11" fill="#3a0053"/><rect x="627" y="179" width="236" height="11" fill="#3a0052"/><rect x="878" y="179" width="9" height="11" fill="#3a0052"/><rect x="336" y="169" width="9" height="11" fill="#3a0052"/><rect x="360" y="169" width="74" height="11" fill="#3a0052"/><rect x="433" y="169" width="9" height="11" fill="#3a0053"/><rect x="441" y="169" width="9" height="11" fill="#3b0054"/><rect x="449" y="169" width="18" height="11" fill="#3b0055"/><rect x="466" y="169" width="9" height="11" fill="#3b0054"/><rect x="474" y="169" width="9" height="11" fill="#3a0053"/><rect x="482" y="169" width="57" height="11" fill="#3a0052"/><rect x="538" y="169" width="9" height="11" fill="#3a0053"/><rect x="546" y="169" width="9" height="11" fill="#3b0054"/><rect x="554" y="169" width="10" height="11" fill="#3c0056"/><rect x="563" y="169" width="25" height="11" fill="#3b0055"/><rect x="587" y="169" width="9" height="11" fill="#3b0054"/><rect x="595" y="169" width="9" height="11" fill="#3a0053"/><rect x="603" y="169" width="235" height="11" fill="#3a0052"/><rect x="360" y="159" width="90" height="11" fill="#3a0052"/><rect x="449" y="159" width="18" height="11" fill="#3a0053"/><rect x="466" y="159" width="65" height="11" fill="#3a0052"/><rect x="546" y="159" width="9" height="11" fill="#3a0052"/><rect x="554" y="159" width="34" height="11" fill="#3a0053"/><rect x="587" y="159" width="203" height="11" fill="#3a0052"/><rect x="360" y="149" width="123" height="11" fill="#3a0052"/><rect x="498" y="149" width="33" height="11" fill="#3a0052"/><rect x="546" y="149" width="179" height="11" fill="#3a0052"/><rect x="740" y="149" width="9" height="11" fill="#3a0052"/><rect x="360" y="140" width="123" height="10" fill="#3a0052"/><rect x="498" y="140" width="219" height="10" fill="#3a0052"/><rect x="369" y="130" width="283" height="11" fill="#3a0052"/><rect x="668" y="130" width="25" height="11" fill="#3a0052"/><rect x="369" y="120" width="17" height="11" fill="#3a0052"/><rect x="401" y="120" width="251" height="11" fill="#3a0052"/><rect x="676" y="120" width="9" height="11" fill="#3a0052"/><rect x="401" y="110" width="243" height="11" fill="#3a0052"/><rect x="707" y="130" width="1" height="11" fill="#470078"/><rect x="764" y="149" width="1" height="11" fill="#470078"/></g><rect class="b" x="142.5" y="107.5" width="996.0" height="506.0"/><g class="g"><line x1="142.5" y1="107" x2="142.5" y2="614"/><line x1="253.5" y1="107" x2="253.5" y2="614"/><line x1="363.5" y1="107" x2="363.5" y2="614"/><line x1="474.5" y1="107" x2="474.5" y2="614"/><line x1="585.5" y1="107" x2="585.5" y2="614"/><line x1="695.5" y1="107" x2="695.5" y2="614"/><line x1="806.5" y1="107" x2="806.5" y2="614"/><line x1="917.5" y1="107" x2="917.5" y2="614"/><line x1="1027.5" y1="107" x2="1027.5" y2="614"/><line x1="1138.5" y1="107" x2="1138.5" y2="614"/><line x1="142" y1="613.5" x2="1139" y2="613.5" stroke-dashoffset="1"/><line x1="142" y1="541.5" x2="1139" y2="541.5" stroke-dashoffset="1"/><line x1="142" y1="468.5" x2="1139" y2="468.5" stroke-dashoffset="1"/><line x1="142" y1="396.5" x2="1139" y2="396.5" stroke-dashoffset="1"/><line x1="142" y1="324.5" x2="1139" y2="324.5" stroke-dashoffset="1"/><line x1="142" y1="252.5" x2="1139" y2="252.5" stroke-dashoffset="1"/><line x1="142" y1="179.5" x2="1139" y2="179.5" stroke-dashoffset="1"/><line x1="142" y1="107.5" x2="1139" y2="107.5" stroke-dashoffset="1"/></g><g class="t"><line x1="142.5" y1="614" x2="142.5" y2="603"/><line x1="142.5" y1="107" x2="142.5" y2="118"/><line x1="253.5" y1="614" x2="253.5" y2="603"/><line x1="253.5" y1="107" x2="253.5" y2="118"/><line x1="363.5" y1="614" x2="363.5" y2="603"/><line x1="363.5" y1="107" x2="363.5" y2="118"/><line x1="474.5" y1="614" x2="474.5" y2="603"/><line x1="474.5" y1="107" x2="474.5" y2="118"/><line x1="585.5" y1="614" x2="585.5" y2="603"/><line x1="585.5" y1="107" x2="585.5" y2="118"/><line x1="695.5" y1="614" x2="695.5" y2="603"/><line x1="695.5" y1="107" x2="695.5" y2="118"/><line x1="806.5" y1="614" x2="806.5" y2="603"/><line x1="806.5" y1="107" x2="806.5" y2="118"/><line x1="917.5" y1="614" x2="917.5" y2="603"/><line x1="917.5" y1="107" x2="917.5" y2="118"/><line x1="1027.5" y1="614" x2="1027.5" y2="603"/><line x1="1027.5" y1="107" x2="1027.5" y2="118"/><line x1="1138.5" y1="614" x2="1138.5" y2="603"/><line x1="1138.5" y1="107" x2="1138.5" y2="118"/><line x1="142" y1="613.5" x2="153" y2="613.5"/><line x1="1139" y1="613.5" x2="1128" y2="613.5"/><line x1="142" y1="541.5" x2="153" y2="541.5"/><line x1="1139" y1="541.5" x2="1128" y2="541.5"/><line x1="142" y1="468.5" x2="153" y2="468.5"/><line x1="1139" y1="468.5" x2="1128" y2="468.5"/><line x1="142" y1="396.5" x2="153" y2="396.5"/><line x1="1139" y1="396.5" x2="1128" y2="396.5"/><line x1="142" y1="324.5" x2="153" y2="324.5"/><line x1="1139" y1="324.5" x2="1128" y2="324.5"/><line x1="142" y1="252.5" x2="153" y2="252.5"/><line x1="1139" y1="252.5" x2="1128" y2="252.5"/><line x1="142" y1="179.5" x2="153" y2="179.5"/><line x1="1139" y1="179.5" x2="1128" y2="179.5"/><line x1="142" y1="107.5" x2="153" y2="107.5"/><line x1="1139" y1="107.5" x2="1128" y2="107.5"/></g><g class="tx"><text x="142.5" y="645" text-anchor="middle">500</text><text x="253.2" y="645" text-anchor="middle">1000</text><text x="363.8" y="645" text-anchor="middle">1500</text><text x="474.5" y="645" text-anchor="middle">2000</text><text x="585.2" y="645" text-anchor="middle">2500</text><text x="695.8" y="645" text-anchor="middle">3000</text><text x="806.5" y="645" text-anchor="middle">3500</text><text x="917.2" y="645" text-anchor="middle">4000</text><text x="1027.8" y="645" text-anchor="middle">4500</text><text x="1138.5" y="645" text-anchor="middle">5000</text><text x="125" y="618.1" text-anchor="end">0</text><text x="125" y="545.8" text-anchor="end">50</text><text x="125" y="473.5" text-anchor="end">100</text><text x="125" y="401.2" text-anchor="end">150</text><text x="125" y="329.0" text-anchor="end">200</text><text x="125" y="256.7" text-anchor="end">250</text><text x="125" y="184.4" text-anchor="end">300</text><text x="125" y="112.1" text-anchor="end">350</text><text x="638" y="83.5" text-anchor="middle" xml:space="preserve">AGR Ansteuerung [%]   (BVK Kleinlochdichtung)</text><text x="638" y="672.5" text-anchor="middle">Drehzahl [1/min]</text><text transform="translate(86.5,361.5) rotate(-90)" text-anchor="middle" style="stroke-width:.05px">Drehmoment [Nm]</text><text x="1227" y="618.1">0</text><text x="1227" y="561.9">10</text><text x="1227" y="505.7">20</text><text x="1227" y="449.4">30</text><text x="1227" y="393.2">40</text><text x="1227" y="337.0">50</text><text x="1227" y="280.8">60</text><text x="1227" y="224.5">70</text><text x="1227" y="168.3">80</text><text x="1227" y="112.1">90</text></g><defs><linearGradient id="cb" x1="0" y1="1" x2="0" y2="0"><stop offset="0.0000" stop-color="#000000"/><stop offset="0.0083" stop-color="#17000d"/><stop offset="0.0167" stop-color="#21001b"/><stop offset="0.0250" stop-color="#280028"/><stop offset="0.0333" stop-color="#2f0035"/><stop offset="0.0417" stop-color="#340042"/><stop offset="0.0500" stop-color="#39004f"/><stop offset="0.0583" stop-color="#3e005b"/><stop offset="0.0667" stop-color="#420068"/><stop offset="0.0750" stop-color="#460074"/><stop offset="0.0833" stop-color="#4a007f"/><stop offset="0.0917" stop-color="#4d008b"/><stop offset="0.1000" stop-color="#510096"/><stop offset="0.1083" stop-color="#5400a0"/><stop offset="0.1167" stop-color="#5700ab"/><stop offset="0.1250" stop-color="#5a00b4"/><stop offset="0.1333" stop-color="#5d01be"/><stop offset="0.1417" stop-color="#6001c6"/><stop offset="0.1500" stop-color="#6301ce"/><stop offset="0.1583" stop-color="#6501d6"/><stop offset="0.1667" stop-color="#6801dd"/><stop offset="0.1750" stop-color="#6b01e3"/><stop offset="0.1833" stop-color="#6d02e9"/><stop offset="0.1917" stop-color="#7002ee"/><stop offset="0.2000" stop-color="#7202f3"/><stop offset="0.2083" stop-color="#7402f6"/><stop offset="0.2167" stop-color="#7703f9"/><stop offset="0.2250" stop-color="#7903fc"/><stop offset="0.2333" stop-color="#7b03fe"/><stop offset="0.2417" stop-color="#7d04ff"/><stop offset="0.2500" stop-color="#8004ff"/><stop offset="0.2583" stop-color="#8204ff"/><stop offset="0.2667" stop-color="#8405fe"/><stop offset="0.2750" stop-color="#8605fc"/><stop offset="0.2833" stop-color="#8806f9"/><stop offset="0.2917" stop-color="#8a06f6"/><stop offset="0.3000" stop-color="#8c07f3"/><stop offset="0.3083" stop-color="#8e07ee"/><stop offset="0.3167" stop-color="#8f08e9"/><stop offset="0.3250" stop-color="#9109e3"/><stop offset="0.3333" stop-color="#9309dd"/><stop offset="0.3417" stop-color="#950ad6"/><stop offset="0.3500" stop-color="#970bce"/><stop offset="0.3583" stop-color="#990cc6"/><stop offset="0.3667" stop-color="#9a0dbe"/><stop offset="0.3750" stop-color="#9c0db4"/><stop offset="0.3833" stop-color="#9e0eab"/><stop offset="0.3917" stop-color="#a00fa0"/><stop offset="0.4000" stop-color="#a11096"/><stop offset="0.4083" stop-color="#a3118b"/><stop offset="0.4167" stop-color="#a5127f"/><stop offset="0.4250" stop-color="#a61474"/><stop offset="0.4333" stop-color="#a81568"/><stop offset="0.4417" stop-color="#a9165b"/><stop offset="0.4500" stop-color="#ab174f"/><stop offset="0.4583" stop-color="#ad1942"/><stop offset="0.4667" stop-color="#ae1a35"/><stop offset="0.4750" stop-color="#b01b28"/><stop offset="0.4833" stop-color="#b11d1b"/><stop offset="0.4917" stop-color="#b31e0d"/><stop offset="0.5000" stop-color="#b42000"/><stop offset="0.5083" stop-color="#b62100"/><stop offset="0.5167" stop-color="#b72300"/><stop offset="0.5250" stop-color="#b92500"/><stop offset="0.5333" stop-color="#ba2700"/><stop offset="0.5417" stop-color="#bc2900"/><stop offset="0.5500" stop-color="#bd2a00"/><stop offset="0.5583" stop-color="#bf2c00"/><stop offset="0.5667" stop-color="#c02e00"/><stop offset="0.5750" stop-color="#c13000"/><stop offset="0.5833" stop-color="#c33300"/><stop offset="0.5917" stop-color="#c43500"/><stop offset="0.6000" stop-color="#c63700"/><stop offset="0.6083" stop-color="#c73900"/><stop offset="0.6167" stop-color="#c83c00"/><stop offset="0.6250" stop-color="#ca3e00"/><stop offset="0.6333" stop-color="#cb4100"/><stop offset="0.6417" stop-color="#cc4300"/><stop offset="0.6500" stop-color="#ce4600"/><stop offset="0.6583" stop-color="#cf4900"/><stop offset="0.6667" stop-color="#d04c00"/><stop offset="0.6750" stop-color="#d24e00"/><stop offset="0.6833" stop-color="#d35100"/><stop offset="0.6917" stop-color="#d45400"/><stop offset="0.7000" stop-color="#d55700"/><stop offset="0.7083" stop-color="#d75b00"/><stop offset="0.7167" stop-color="#d85e00"/><stop offset="0.7250" stop-color="#d96100"/><stop offset="0.7333" stop-color="#da6500"/><stop offset="0.7417" stop-color="#dc6800"/><stop offset="0.7500" stop-color="#dd6c00"/><stop offset="0.7583" stop-color="#de6f00"/><stop offset="0.7667" stop-color="#df7300"/><stop offset="0.7750" stop-color="#e07700"/><stop offset="0.7833" stop-color="#e27b00"/><stop offset="0.7917" stop-color="#e37f00"/><stop offset="0.8000" stop-color="#e48300"/><stop offset="0.8083" stop-color="#e58700"/><stop offset="0.8167" stop-color="#e68b00"/><stop offset="0.8250" stop-color="#e88f00"/><stop offset="0.8333" stop-color="#e99400"/><stop offset="0.8417" stop-color="#ea9800"/><stop offset="0.8500" stop-color="#eb9d00"/><stop offset="0.8583" stop-color="#eca100"/><stop offset="0.8667" stop-color="#eda600"/><stop offset="0.8750" stop-color="#efab00"/><stop offset="0.8833" stop-color="#f0b000"/><stop offset="0.8917" stop-color="#f1b500"/><stop offset="0.9000" stop-color="#f2ba00"/><stop offset="0.9083" stop-color="#f3bf00"/><stop offset="0.9167" stop-color="#f4c400"/><stop offset="0.9250" stop-color="#f5ca00"/><stop offset="0.9333" stop-color="#f6cf00"/><stop offset="0.9417" stop-color="#f7d500"/><stop offset="0.9500" stop-color="#f9db00"/><stop offset="0.9583" stop-color="#fae000"/><stop offset="0.9667" stop-color="#fbe600"/><stop offset="0.9750" stop-color="#fcec00"/><stop offset="0.9833" stop-color="#fdf200"/><stop offset="0.9917" stop-color="#fef900"/><stop offset="1.0000" stop-color="#ffff00"/></linearGradient></defs><rect x="1163.5" y="107.5" width="50.0" height="506.0" fill="url(#cb)"/><rect class="b" x="1163.5" y="107.5" width="50.0" height="506.0"/><g class="t"><line x1="1163.5" y1="557.28" x2="1170.5" y2="557.28"/><line x1="1213.5" y1="557.28" x2="1206.5" y2="557.28"/><line x1="1163.5" y1="501.06" x2="1170.5" y2="501.06"/><line x1="1213.5" y1="501.06" x2="1206.5" y2="501.06"/><line x1="1163.5" y1="444.83" x2="1170.5" y2="444.83"/><line x1="1213.5" y1="444.83" x2="1206.5" y2="444.83"/><line x1="1163.5" y1="388.61" x2="1170.5" y2="388.61"/><line x1="1213.5" y1="388.61" x2="1206.5" y2="388.61"/><line x1="1163.5" y1="332.39" x2="1170.5" y2="332.39"/><line x1="1213.5" y1="332.39" x2="1206.5" y2="332.39"/><line x1="1163.5" y1="276.17" x2="1170.5" y2="276.17"/><line x1="1213.5" y1="276.17" x2="1206.5" y2="276.17"/><line x1="1163.5" y1="219.94" x2="1170.5" y2="219.94"/><line x1="1213.5" y1="219.94" x2="1206.5" y2="219.94"/><line x1="1163.5" y1="163.72" x2="1170.5" y2="163.72"/><line x1="1213.5" y1="163.72" x2="1206.5" y2="163.72"/></g></svg></body></html>
